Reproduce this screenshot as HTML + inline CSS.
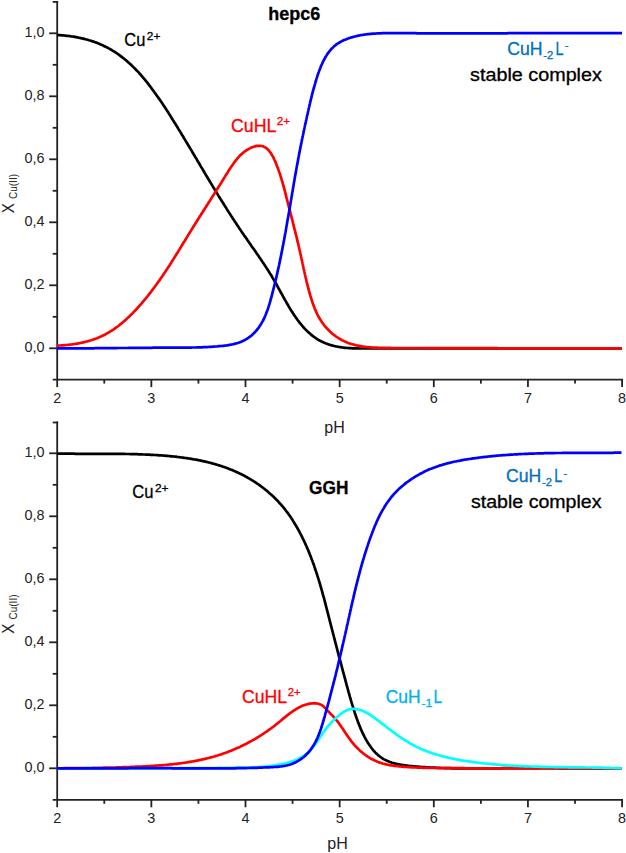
<!DOCTYPE html><html><head><meta charset="utf-8"><style>html,body{margin:0;padding:0;background:#fff;}body{width:626px;height:853px;overflow:hidden;}svg{display:block;font-family:"Liberation Sans",sans-serif;}</style></head><body><svg width="626" height="853" viewBox="0 0 626 853">
<rect width="626" height="853" fill="#fff"/>
<g stroke="#222" stroke-width="1.80" fill="none"><line x1="57.20" y1="1.00" x2="57.20" y2="379.60" /><line x1="52.70" y1="1.90" x2="58.10" y2="1.90" /><line x1="52.70" y1="379.60" x2="623.00" y2="379.60" /><line x1="49.20" y1="348.30" x2="57.20" y2="348.30" /><line x1="52.70" y1="316.80" x2="57.20" y2="316.80" /><line x1="49.20" y1="285.30" x2="57.20" y2="285.30" /><line x1="52.70" y1="253.80" x2="57.20" y2="253.80" /><line x1="49.20" y1="222.30" x2="57.20" y2="222.30" /><line x1="52.70" y1="190.80" x2="57.20" y2="190.80" /><line x1="49.20" y1="159.30" x2="57.20" y2="159.30" /><line x1="52.70" y1="127.80" x2="57.20" y2="127.80" /><line x1="49.20" y1="96.30" x2="57.20" y2="96.30" /><line x1="52.70" y1="64.80" x2="57.20" y2="64.80" /><line x1="49.20" y1="33.30" x2="57.20" y2="33.30" /><line x1="57.20" y1="379.60" x2="57.20" y2="387.10" /><line x1="104.28" y1="379.60" x2="104.28" y2="383.60" /><line x1="151.35" y1="379.60" x2="151.35" y2="387.10" /><line x1="198.43" y1="379.60" x2="198.43" y2="383.60" /><line x1="245.50" y1="379.60" x2="245.50" y2="387.10" /><line x1="292.57" y1="379.60" x2="292.57" y2="383.60" /><line x1="339.65" y1="379.60" x2="339.65" y2="387.10" /><line x1="386.73" y1="379.60" x2="386.73" y2="383.60" /><line x1="433.80" y1="379.60" x2="433.80" y2="387.10" /><line x1="480.88" y1="379.60" x2="480.88" y2="383.60" /><line x1="527.95" y1="379.60" x2="527.95" y2="387.10" /><line x1="575.03" y1="379.60" x2="575.03" y2="383.60" /><line x1="622.10" y1="379.60" x2="622.10" y2="387.10" /></g><g font-size="14.4" fill="#222"><text x="44.6" y="351.90" text-anchor="end">0,0</text><text x="44.6" y="288.90" text-anchor="end">0,2</text><text x="44.6" y="225.90" text-anchor="end">0,4</text><text x="44.6" y="162.90" text-anchor="end">0,6</text><text x="44.6" y="99.90" text-anchor="end">0,8</text><text x="44.6" y="36.90" text-anchor="end">1,0</text><text x="57.20" y="402.80" text-anchor="middle">2</text><text x="151.35" y="402.80" text-anchor="middle">3</text><text x="245.50" y="402.80" text-anchor="middle">4</text><text x="339.65" y="402.80" text-anchor="middle">5</text><text x="433.80" y="402.80" text-anchor="middle">6</text><text x="527.95" y="402.80" text-anchor="middle">7</text><text x="622.10" y="402.80" text-anchor="middle">8</text></g>
<g stroke="#222" stroke-width="1.80" fill="none"><line x1="57.20" y1="421.60" x2="57.20" y2="799.80" /><line x1="52.70" y1="422.50" x2="58.10" y2="422.50" /><line x1="52.70" y1="799.80" x2="623.00" y2="799.80" /><line x1="49.20" y1="768.30" x2="57.20" y2="768.30" /><line x1="52.70" y1="736.80" x2="57.20" y2="736.80" /><line x1="49.20" y1="705.30" x2="57.20" y2="705.30" /><line x1="52.70" y1="673.80" x2="57.20" y2="673.80" /><line x1="49.20" y1="642.30" x2="57.20" y2="642.30" /><line x1="52.70" y1="610.80" x2="57.20" y2="610.80" /><line x1="49.20" y1="579.30" x2="57.20" y2="579.30" /><line x1="52.70" y1="547.80" x2="57.20" y2="547.80" /><line x1="49.20" y1="516.30" x2="57.20" y2="516.30" /><line x1="52.70" y1="484.80" x2="57.20" y2="484.80" /><line x1="49.20" y1="453.30" x2="57.20" y2="453.30" /><line x1="57.20" y1="799.80" x2="57.20" y2="807.30" /><line x1="104.28" y1="799.80" x2="104.28" y2="803.80" /><line x1="151.35" y1="799.80" x2="151.35" y2="807.30" /><line x1="198.43" y1="799.80" x2="198.43" y2="803.80" /><line x1="245.50" y1="799.80" x2="245.50" y2="807.30" /><line x1="292.57" y1="799.80" x2="292.57" y2="803.80" /><line x1="339.65" y1="799.80" x2="339.65" y2="807.30" /><line x1="386.73" y1="799.80" x2="386.73" y2="803.80" /><line x1="433.80" y1="799.80" x2="433.80" y2="807.30" /><line x1="480.88" y1="799.80" x2="480.88" y2="803.80" /><line x1="527.95" y1="799.80" x2="527.95" y2="807.30" /><line x1="575.03" y1="799.80" x2="575.03" y2="803.80" /><line x1="622.10" y1="799.80" x2="622.10" y2="807.30" /></g><g font-size="14.4" fill="#222"><text x="44.6" y="771.90" text-anchor="end">0,0</text><text x="44.6" y="708.90" text-anchor="end">0,2</text><text x="44.6" y="645.90" text-anchor="end">0,4</text><text x="44.6" y="582.90" text-anchor="end">0,6</text><text x="44.6" y="519.90" text-anchor="end">0,8</text><text x="44.6" y="456.90" text-anchor="end">1,0</text><text x="57.20" y="823.00" text-anchor="middle">2</text><text x="151.35" y="823.00" text-anchor="middle">3</text><text x="245.50" y="823.00" text-anchor="middle">4</text><text x="339.65" y="823.00" text-anchor="middle">5</text><text x="433.80" y="823.00" text-anchor="middle">6</text><text x="527.95" y="823.00" text-anchor="middle">7</text><text x="622.10" y="823.00" text-anchor="middle">8</text></g>
<g transform="translate(13.7,212.20) rotate(-90)" fill="#222"><text x="-1.2" y="0" font-size="16.5" transform="scale(0.92,1)">X</text><text x="13.2" y="3.3" font-size="11" textLength="25" lengthAdjust="spacingAndGlyphs">Cu(II)</text></g>
<g transform="translate(13.7,632.70) rotate(-90)" fill="#222"><text x="-1.2" y="0" font-size="16.5" transform="scale(0.92,1)">X</text><text x="13.2" y="3.3" font-size="11" textLength="25" lengthAdjust="spacingAndGlyphs">Cu(II)</text></g>
<g fill="none" stroke-width="2.70" stroke-linejoin="round" stroke-linecap="butt"><path d="M57.0 35.0 L58.2 35.1 L59.4 35.1 L60.6 35.2 L61.7 35.3 L62.9 35.4 L64.1 35.5 L65.3 35.6 L66.5 35.8 L67.7 35.9 L68.9 36.0 L70.1 36.2 L71.3 36.4 L72.5 36.5 L73.6 36.7 L74.8 36.9 L76.0 37.1 L77.2 37.3 L78.4 37.6 L79.6 37.8 L80.7 38.1 L81.9 38.3 L83.1 38.6 L84.3 38.9 L85.4 39.2 L86.6 39.5 L87.7 39.8 L88.9 40.2 L90.0 40.5 L91.2 40.9 L92.3 41.2 L93.5 41.6 L94.6 42.0 L95.7 42.4 L96.9 42.8 L98.0 43.3 L99.1 43.7 L100.2 44.2 L101.3 44.7 L102.4 45.1 L103.4 45.7 L104.5 46.2 L105.6 46.7 L106.7 47.2 L107.7 47.8 L108.8 48.4 L109.8 48.9 L110.8 49.5 L111.9 50.1 L112.9 50.8 L113.9 51.4 L114.9 52.0 L115.9 52.7 L116.9 53.4 L117.9 54.0 L118.8 54.7 L119.8 55.4 L120.7 56.1 L121.7 56.9 L122.6 57.6 L123.6 58.3 L124.5 59.1 L125.4 59.8 L126.3 60.6 L127.3 61.4 L128.2 62.2 L129.0 63.0 L129.9 63.8 L130.8 64.6 L131.7 65.4 L132.5 66.2 L133.4 67.1 L134.2 67.9 L135.1 68.8 L135.9 69.6 L136.7 70.5 L137.6 71.3 L138.4 72.2 L139.2 73.1 L140.0 74.0 L140.8 74.9 L141.6 75.8 L142.3 76.7 L143.1 77.6 L143.9 78.5 L144.7 79.4 L145.4 80.4 L146.2 81.3 L146.9 82.2 L147.7 83.2 L148.4 84.1 L149.1 85.1 L149.9 86.0 L150.6 87.0 L151.3 87.9 L152.0 88.9 L152.7 89.9 L153.4 90.8 L154.1 91.8 L154.8 92.8 L155.5 93.7 L156.2 94.7 L156.9 95.7 L157.6 96.7 L158.3 97.7 L159.0 98.6 L159.7 99.6 L160.3 100.6 L161.0 101.6 L161.7 102.6 L162.4 103.6 L163.0 104.6 L163.7 105.6 L164.3 106.6 L165.0 107.6 L165.7 108.6 L166.3 109.6 L167.0 110.6 L167.6 111.6 L168.3 112.6 L168.9 113.6 L169.5 114.6 L170.2 115.6 L170.8 116.7 L171.5 117.7 L172.1 118.7 L172.7 119.7 L173.4 120.7 L174.0 121.7 L174.6 122.7 L175.3 123.8 L175.9 124.8 L176.5 125.8 L177.2 126.8 L177.8 127.8 L178.4 128.9 L179.0 129.9 L179.7 130.9 L180.3 131.9 L180.9 132.9 L181.5 134.0 L182.1 135.0 L182.8 136.0 L183.4 137.0 L184.0 138.1 L184.6 139.1 L185.2 140.1 L185.8 141.1 L186.5 142.2 L187.1 143.2 L187.7 144.2 L188.3 145.3 L188.9 146.3 L189.5 147.3 L190.1 148.3 L190.8 149.4 L191.4 150.4 L192.0 151.4 L192.6 152.5 L193.2 153.5 L193.8 154.5 L194.4 155.5 L195.0 156.6 L195.6 157.6 L196.3 158.6 L196.9 159.7 L197.5 160.7 L198.1 161.7 L198.7 162.8 L199.3 163.8 L199.9 164.8 L200.5 165.9 L201.1 166.9 L201.8 167.9 L202.4 168.9 L203.0 170.0 L203.6 171.0 L204.2 172.0 L204.8 173.1 L205.4 174.1 L206.0 175.1 L206.7 176.2 L207.3 177.2 L207.9 178.2 L208.5 179.2 L209.1 180.3 L209.7 181.3 L210.3 182.3 L211.0 183.4 L211.6 184.4 L212.2 185.4 L212.8 186.4 L213.4 187.5 L214.1 188.5 L214.7 189.5 L215.3 190.5 L215.9 191.6 L216.6 192.6 L217.2 193.6 L217.8 194.6 L218.4 195.6 L219.1 196.7 L219.7 197.7 L220.3 198.7 L221.0 199.7 L221.6 200.7 L222.2 201.8 L222.9 202.8 L223.5 203.8 L224.1 204.8 L224.8 205.8 L225.4 206.8 L226.1 207.8 L226.7 208.9 L227.3 209.9 L228.0 210.9 L228.6 211.9 L229.3 212.9 L229.9 213.9 L230.6 214.9 L231.2 215.9 L231.9 216.9 L232.5 217.9 L233.2 218.9 L233.8 219.9 L234.5 220.9 L235.2 221.9 L235.8 222.9 L236.5 223.9 L237.1 224.9 L237.8 225.9 L238.5 226.9 L239.1 227.9 L239.8 228.9 L240.5 229.9 L241.1 230.9 L241.8 231.9 L242.5 232.9 L243.2 233.9 L243.8 234.9 L244.5 235.9 L245.2 236.8 L245.9 237.8 L246.6 238.8 L247.2 239.8 L247.9 240.8 L248.6 241.8 L249.3 242.8 L250.0 243.7 L250.7 244.7 L251.3 245.7 L252.0 246.7 L252.7 247.7 L253.4 248.6 L254.1 249.6 L254.8 250.6 L255.5 251.6 L256.1 252.6 L256.8 253.6 L257.5 254.5 L258.2 255.5 L258.9 256.5 L259.5 257.5 L260.2 258.5 L260.9 259.5 L261.6 260.5 L262.2 261.4 L262.9 262.4 L263.6 263.4 L264.2 264.4 L264.9 265.4 L265.5 266.4 L266.2 267.4 L266.8 268.4 L267.5 269.4 L268.1 270.4 L268.8 271.5 L269.4 272.5 L270.0 273.5 L270.7 274.5 L271.3 275.5 L271.9 276.5 L272.5 277.6 L273.1 278.6 L273.7 279.6 L274.3 280.7 L274.9 281.7 L275.5 282.7 L276.1 283.8 L276.7 284.8 L277.3 285.9 L277.8 286.9 L278.4 288.0 L279.0 289.0 L279.6 290.1 L280.2 291.1 L280.7 292.2 L281.3 293.2 L281.9 294.3 L282.5 295.3 L283.0 296.4 L283.6 297.4 L284.2 298.5 L284.8 299.6 L285.4 300.6 L286.0 301.6 L286.6 302.7 L287.2 303.7 L287.8 304.8 L288.4 305.8 L289.0 306.9 L289.6 307.9 L290.2 308.9 L290.9 309.9 L291.5 311.0 L292.2 312.0 L292.8 313.0 L293.5 314.0 L294.1 315.0 L294.8 316.0 L295.5 317.0 L296.2 318.0 L296.9 319.0 L297.6 320.0 L298.4 321.0 L299.1 321.9 L299.8 322.9 L300.6 323.8 L301.4 324.7 L302.1 325.7 L302.9 326.6 L303.7 327.5 L304.5 328.4 L305.3 329.2 L306.2 330.1 L307.0 330.9 L307.9 331.7 L308.7 332.6 L309.6 333.3 L310.5 334.1 L311.4 334.9 L312.3 335.6 L313.2 336.3 L314.2 337.0 L315.1 337.7 L316.1 338.4 L317.1 339.0 L318.0 339.6 L319.1 340.2 L320.1 340.8 L321.1 341.3 L322.1 341.8 L323.2 342.3 L324.3 342.8 L325.3 343.2 L326.4 343.6 L327.5 344.0 L328.6 344.4 L329.8 344.8 L330.9 345.1 L332.0 345.4 L333.2 345.7 L334.3 346.0 L335.5 346.3 L336.7 346.5 L337.8 346.7 L339.0 347.0 L340.2 347.1 L341.4 347.3 L342.6 347.5 L343.8 347.6 L345.0 347.8 L346.2 347.9 L347.4 348.0 L348.6 348.1 L349.8 348.1 L351.0 348.2 L352.2 348.3 L353.4 348.3 L354.6 348.4 L355.8 348.4 L357.1 348.4 L358.3 348.4 L359.5 348.5 L360.7 348.5 L361.9 348.5 L363.1 348.5 L364.4 348.5 L365.6 348.5 L366.8 348.5 L368.0 348.5 L369.2 348.5 L370.4 348.5 L371.6 348.5 L372.8 348.5 L374.0 348.5 L375.3 348.5 L376.5 348.5 L377.7 348.5 L378.9 348.5 L380.1 348.5 L381.3 348.5 L382.5 348.5 L383.7 348.5 L384.9 348.5 L386.1 348.5 L387.3 348.5 L388.5 348.5 L389.7 348.5 L390.9 348.5 L392.1 348.5 L393.3 348.5 L394.5 348.5 L395.7 348.5 L396.9 348.5 L398.1 348.5 L399.3 348.5 L400.4 348.5 L401.6 348.5 L402.8 348.5 L404.0 348.5 L405.2 348.5 L406.4 348.5 L407.6 348.5 L408.8 348.5 L410.0 348.5 L411.2 348.5 L412.4 348.5 L413.6 348.5 L414.8 348.5 L416.0 348.5 L417.2 348.5 L418.4 348.5 L419.6 348.5 L420.8 348.5 L421.9 348.5 L423.1 348.5 L424.3 348.5 L425.5 348.5 L426.7 348.5 L427.9 348.5 L429.1 348.5 L430.3 348.5 L431.5 348.5 L432.7 348.5 L433.9 348.5 L435.1 348.5 L436.3 348.5 L437.5 348.5 L438.7 348.5 L439.9 348.5 L441.1 348.5 L442.3 348.5 L443.5 348.5 L444.7 348.5 L445.9 348.5 L447.1 348.5 L448.2 348.5 L449.4 348.5 L450.6 348.5 L451.8 348.5 L453.0 348.5 L454.2 348.5 L455.4 348.5 L456.6 348.5 L457.8 348.5 L459.0 348.5 L460.2 348.5 L461.4 348.5 L462.6 348.5 L463.8 348.5 L465.0 348.5 L466.2 348.5 L467.4 348.5 L468.6 348.5 L469.8 348.5 L471.0 348.5 L472.2 348.5 L473.4 348.5 L474.6 348.5 L475.8 348.5 L477.0 348.5 L478.2 348.5 L479.4 348.5 L480.6 348.5 L481.8 348.5 L483.0 348.5 L484.2 348.5 L485.4 348.5 L486.6 348.5 L487.8 348.5 L489.0 348.5 L490.2 348.5 L491.4 348.5 L492.6 348.5 L493.8 348.5 L495.0 348.5 L496.2 348.5 L497.4 348.5 L498.6 348.5 L499.8 348.5 L501.0 348.5 L502.2 348.5 L503.4 348.5 L504.6 348.5 L505.8 348.5 L507.0 348.5 L508.2 348.5 L509.4 348.5 L510.6 348.5 L511.7 348.5 L512.9 348.5 L514.1 348.5 L515.3 348.5 L516.5 348.5 L517.7 348.5 L518.9 348.5 L520.1 348.5 L521.3 348.5 L522.5 348.5 L523.7 348.5 L524.9 348.5 L526.1 348.5 L527.3 348.5 L528.5 348.5 L529.7 348.5 L530.9 348.5 L532.1 348.5 L533.3 348.5 L534.5 348.5 L535.7 348.5 L536.9 348.5 L538.1 348.5 L539.3 348.5 L540.5 348.5 L541.7 348.5 L542.9 348.5 L544.1 348.5 L545.3 348.5 L546.5 348.5 L547.7 348.5 L548.9 348.5 L550.1 348.5 L551.3 348.5 L552.5 348.5 L553.7 348.5 L554.9 348.5 L556.1 348.5 L557.3 348.5 L558.5 348.5 L559.7 348.5 L560.9 348.5 L562.1 348.5 L563.3 348.5 L564.5 348.5 L565.7 348.5 L566.9 348.5 L568.1 348.5 L569.3 348.5 L570.5 348.5 L571.7 348.5 L572.9 348.5 L574.1 348.5 L575.3 348.5 L576.5 348.5 L577.7 348.5 L578.9 348.5 L580.1 348.5 L581.3 348.5 L582.5 348.5 L583.7 348.5 L584.9 348.5 L586.1 348.5 L587.3 348.5 L588.5 348.5 L589.7 348.5 L590.9 348.5 L592.1 348.5 L593.3 348.5 L594.5 348.5 L595.7 348.5 L596.9 348.5 L598.1 348.5 L599.3 348.5 L600.5 348.5 L601.7 348.5 L602.9 348.5 L604.1 348.5 L605.2 348.5 L606.4 348.5 L607.6 348.5 L608.8 348.5 L610.0 348.5 L611.2 348.5 L612.4 348.5 L613.6 348.5 L614.8 348.5 L616.0 348.5 L617.2 348.5 L618.4 348.5 L619.6 348.5 L620.8 348.5 L622.0 348.5" stroke="#000" />
<path d="M57.0 345.6 L58.2 345.6 L59.3 345.5 L60.5 345.5 L61.7 345.4 L62.9 345.3 L64.1 345.2 L65.3 345.1 L66.5 345.0 L67.6 344.9 L68.8 344.8 L70.0 344.6 L71.2 344.5 L72.4 344.3 L73.6 344.2 L74.8 344.0 L76.0 343.8 L77.2 343.6 L78.4 343.4 L79.6 343.2 L80.8 342.9 L82.0 342.7 L83.2 342.4 L84.3 342.1 L85.5 341.8 L86.7 341.5 L87.9 341.2 L89.0 340.9 L90.2 340.5 L91.3 340.2 L92.5 339.8 L93.6 339.4 L94.7 339.0 L95.9 338.6 L97.0 338.2 L98.1 337.7 L99.2 337.3 L100.3 336.8 L101.4 336.3 L102.4 335.8 L103.5 335.3 L104.6 334.7 L105.6 334.2 L106.6 333.6 L107.7 333.0 L108.7 332.4 L109.7 331.8 L110.7 331.2 L111.7 330.6 L112.7 329.9 L113.7 329.3 L114.7 328.6 L115.6 327.9 L116.6 327.2 L117.5 326.5 L118.5 325.8 L119.4 325.1 L120.3 324.3 L121.3 323.6 L122.2 322.8 L123.1 322.1 L124.0 321.3 L124.9 320.5 L125.8 319.7 L126.7 318.9 L127.5 318.1 L128.4 317.3 L129.3 316.5 L130.1 315.6 L131.0 314.8 L131.8 314.0 L132.7 313.1 L133.5 312.2 L134.3 311.4 L135.2 310.5 L136.0 309.6 L136.8 308.8 L137.6 307.9 L138.4 307.0 L139.2 306.1 L140.0 305.2 L140.8 304.3 L141.6 303.4 L142.3 302.5 L143.1 301.6 L143.9 300.7 L144.7 299.7 L145.4 298.8 L146.2 297.9 L146.9 297.0 L147.7 296.0 L148.4 295.1 L149.2 294.1 L149.9 293.2 L150.6 292.3 L151.4 291.3 L152.1 290.3 L152.8 289.4 L153.5 288.4 L154.2 287.5 L155.0 286.5 L155.7 285.5 L156.4 284.6 L157.1 283.6 L157.8 282.6 L158.5 281.6 L159.2 280.7 L159.8 279.7 L160.5 278.7 L161.2 277.7 L161.9 276.7 L162.6 275.7 L163.3 274.7 L163.9 273.7 L164.6 272.7 L165.3 271.7 L165.9 270.7 L166.6 269.7 L167.2 268.7 L167.9 267.7 L168.6 266.7 L169.2 265.7 L169.9 264.7 L170.5 263.7 L171.2 262.7 L171.8 261.6 L172.5 260.6 L173.1 259.6 L173.7 258.6 L174.4 257.6 L175.0 256.6 L175.7 255.5 L176.3 254.5 L176.9 253.5 L177.6 252.5 L178.2 251.5 L178.8 250.4 L179.5 249.4 L180.1 248.4 L180.7 247.4 L181.3 246.4 L182.0 245.3 L182.6 244.3 L183.2 243.3 L183.8 242.3 L184.5 241.2 L185.1 240.2 L185.7 239.2 L186.3 238.2 L187.0 237.2 L187.6 236.1 L188.2 235.1 L188.8 234.1 L189.5 233.1 L190.1 232.1 L190.7 231.1 L191.3 230.1 L192.0 229.0 L192.6 228.0 L193.2 227.0 L193.8 226.0 L194.5 225.0 L195.1 224.0 L195.7 223.0 L196.4 222.0 L197.0 221.0 L197.6 220.0 L198.2 219.0 L198.9 218.0 L199.5 217.0 L200.1 216.0 L200.8 215.0 L201.4 214.0 L202.0 213.0 L202.7 212.0 L203.3 211.0 L203.9 210.0 L204.6 209.0 L205.2 208.0 L205.9 207.0 L206.5 206.0 L207.1 205.0 L207.8 204.0 L208.4 203.0 L209.0 202.0 L209.7 201.0 L210.3 200.0 L211.0 199.0 L211.6 197.9 L212.2 196.9 L212.9 195.9 L213.5 194.9 L214.2 193.9 L214.8 192.9 L215.5 191.9 L216.1 190.9 L216.7 189.8 L217.4 188.8 L218.0 187.8 L218.7 186.8 L219.3 185.7 L220.0 184.7 L220.6 183.7 L221.3 182.6 L221.9 181.6 L222.6 180.6 L223.2 179.5 L223.8 178.5 L224.5 177.4 L225.1 176.4 L225.8 175.3 L226.4 174.3 L227.1 173.2 L227.8 172.2 L228.4 171.1 L229.1 170.1 L229.7 169.0 L230.4 168.0 L231.1 166.9 L231.8 165.9 L232.5 164.9 L233.2 163.9 L233.9 162.9 L234.6 161.9 L235.4 161.0 L236.1 160.0 L236.9 159.1 L237.6 158.2 L238.4 157.3 L239.2 156.4 L240.0 155.6 L240.9 154.8 L241.7 154.0 L242.6 153.2 L243.5 152.4 L244.4 151.7 L245.3 151.0 L246.3 150.4 L247.3 149.7 L248.3 149.2 L249.3 148.6 L250.3 148.1 L251.4 147.6 L252.5 147.2 L253.6 146.8 L254.7 146.4 L255.9 146.1 L257.0 145.9 L258.1 145.8 L259.3 145.8 L260.4 145.8 L261.5 146.0 L262.5 146.2 L263.6 146.6 L264.6 147.1 L265.6 147.7 L266.5 148.3 L267.4 149.1 L268.3 149.9 L269.1 150.8 L269.8 151.8 L270.6 152.8 L271.3 153.9 L271.9 155.0 L272.6 156.1 L273.2 157.2 L273.8 158.4 L274.3 159.6 L274.9 160.7 L275.4 161.9 L275.9 163.0 L276.3 164.2 L276.8 165.4 L277.2 166.5 L277.7 167.7 L278.1 168.8 L278.5 170.0 L278.9 171.1 L279.3 172.3 L279.7 173.4 L280.1 174.5 L280.4 175.7 L280.8 176.8 L281.2 178.0 L281.5 179.1 L281.8 180.2 L282.2 181.4 L282.5 182.5 L282.8 183.7 L283.2 184.8 L283.5 185.9 L283.8 187.1 L284.1 188.2 L284.4 189.4 L284.7 190.5 L285.0 191.6 L285.3 192.8 L285.6 193.9 L285.9 195.1 L286.1 196.2 L286.4 197.4 L286.7 198.5 L287.0 199.7 L287.3 200.8 L287.6 202.0 L287.9 203.1 L288.2 204.3 L288.5 205.4 L288.8 206.6 L289.1 207.7 L289.4 208.9 L289.7 210.0 L290.0 211.2 L290.3 212.4 L290.6 213.5 L290.9 214.7 L291.2 215.8 L291.5 217.0 L291.8 218.2 L292.1 219.3 L292.4 220.5 L292.7 221.7 L293.0 222.8 L293.3 224.0 L293.5 225.2 L293.8 226.3 L294.1 227.5 L294.4 228.7 L294.7 229.8 L295.0 231.0 L295.3 232.2 L295.6 233.4 L295.9 234.5 L296.2 235.7 L296.5 236.9 L296.8 238.0 L297.0 239.2 L297.3 240.4 L297.6 241.6 L297.9 242.7 L298.2 243.9 L298.5 245.1 L298.7 246.3 L299.0 247.4 L299.3 248.6 L299.5 249.8 L299.8 250.9 L300.1 252.1 L300.3 253.3 L300.6 254.5 L300.9 255.6 L301.1 256.8 L301.4 258.0 L301.6 259.1 L301.9 260.3 L302.1 261.5 L302.4 262.6 L302.6 263.8 L302.9 265.0 L303.1 266.1 L303.4 267.3 L303.6 268.5 L303.9 269.6 L304.2 270.8 L304.4 272.0 L304.7 273.1 L304.9 274.3 L305.2 275.5 L305.5 276.6 L305.7 277.8 L306.0 278.9 L306.3 280.1 L306.5 281.3 L306.8 282.4 L307.1 283.6 L307.4 284.7 L307.7 285.9 L308.0 287.0 L308.3 288.2 L308.6 289.3 L308.9 290.5 L309.2 291.6 L309.5 292.8 L309.9 293.9 L310.2 295.1 L310.5 296.2 L310.9 297.4 L311.2 298.5 L311.6 299.7 L312.0 300.8 L312.3 302.0 L312.7 303.1 L313.1 304.3 L313.5 305.4 L314.0 306.5 L314.4 307.6 L314.8 308.8 L315.3 309.9 L315.8 311.0 L316.3 312.1 L316.8 313.2 L317.3 314.3 L317.9 315.4 L318.4 316.4 L319.0 317.5 L319.6 318.5 L320.2 319.6 L320.9 320.6 L321.6 321.6 L322.2 322.6 L323.0 323.6 L323.7 324.6 L324.4 325.5 L325.2 326.5 L326.0 327.4 L326.8 328.3 L327.7 329.2 L328.5 330.1 L329.4 330.9 L330.2 331.8 L331.1 332.6 L332.0 333.4 L333.0 334.2 L333.9 334.9 L334.9 335.6 L335.8 336.3 L336.8 337.0 L337.8 337.7 L338.8 338.3 L339.8 338.9 L340.8 339.5 L341.8 340.1 L342.8 340.6 L343.9 341.1 L344.9 341.6 L346.0 342.0 L347.1 342.5 L348.1 342.9 L349.2 343.3 L350.3 343.6 L351.4 344.0 L352.5 344.3 L353.6 344.6 L354.7 344.9 L355.9 345.2 L357.0 345.5 L358.1 345.7 L359.3 345.9 L360.4 346.1 L361.6 346.3 L362.7 346.5 L363.9 346.7 L365.1 346.8 L366.2 347.0 L367.4 347.1 L368.6 347.2 L369.8 347.3 L371.0 347.4 L372.2 347.5 L373.4 347.6 L374.6 347.6 L375.8 347.7 L377.0 347.7 L378.2 347.8 L379.4 347.8 L380.6 347.8 L381.8 347.9 L383.0 347.9 L384.2 347.9 L385.4 347.9 L386.7 347.9 L387.9 347.9 L389.1 347.9 L390.3 347.9 L391.5 348.0 L392.7 348.0 L393.9 348.0 L395.2 348.0 L396.4 348.0 L397.6 348.0 L398.8 348.0 L400.0 348.0 L401.2 348.0 L402.4 348.0 L403.7 348.0 L404.9 348.0 L406.1 348.0 L407.3 348.0 L408.5 348.0 L409.7 348.0 L410.9 348.0 L412.1 348.0 L413.3 348.0 L414.6 348.0 L415.8 348.0 L417.0 348.0 L418.2 348.0 L419.4 348.0 L420.6 348.0 L421.8 348.0 L423.0 348.0 L424.2 348.0 L425.4 348.0 L426.6 348.0 L427.8 348.1 L429.0 348.1 L430.2 348.1 L431.4 348.1 L432.7 348.1 L433.9 348.1 L435.1 348.1 L436.3 348.1 L437.5 348.1 L438.7 348.1 L439.9 348.1 L441.1 348.1 L442.3 348.1 L443.5 348.1 L444.7 348.1 L445.9 348.1 L447.1 348.1 L448.3 348.1 L449.5 348.1 L450.7 348.1 L451.9 348.1 L453.1 348.1 L454.3 348.1 L455.5 348.1 L456.7 348.1 L457.9 348.1 L459.1 348.1 L460.3 348.1 L461.5 348.2 L462.7 348.2 L463.9 348.2 L465.1 348.2 L466.3 348.2 L467.5 348.2 L468.7 348.2 L469.9 348.2 L471.1 348.2 L472.3 348.2 L473.5 348.2 L474.7 348.2 L475.9 348.2 L477.1 348.2 L478.3 348.2 L479.5 348.2 L480.7 348.2 L481.9 348.2 L483.0 348.2 L484.2 348.2 L485.4 348.2 L486.6 348.2 L487.8 348.2 L489.0 348.2 L490.2 348.2 L491.4 348.2 L492.6 348.2 L493.8 348.2 L495.0 348.2 L496.2 348.2 L497.4 348.2 L498.6 348.3 L499.8 348.3 L501.0 348.3 L502.2 348.3 L503.4 348.3 L504.6 348.3 L505.8 348.3 L507.0 348.3 L508.2 348.3 L509.3 348.3 L510.5 348.3 L511.7 348.3 L512.9 348.3 L514.1 348.3 L515.3 348.3 L516.5 348.3 L517.7 348.3 L518.9 348.3 L520.1 348.3 L521.3 348.3 L522.5 348.3 L523.7 348.3 L524.9 348.3 L526.1 348.3 L527.3 348.3 L528.5 348.3 L529.7 348.3 L530.9 348.3 L532.0 348.3 L533.2 348.3 L534.4 348.3 L535.6 348.3 L536.8 348.3 L538.0 348.3 L539.2 348.3 L540.4 348.3 L541.6 348.3 L542.8 348.3 L544.0 348.3 L545.2 348.3 L546.4 348.3 L547.6 348.3 L548.8 348.3 L550.0 348.3 L551.2 348.3 L552.4 348.3 L553.6 348.3 L554.8 348.3 L556.0 348.3 L557.2 348.3 L558.3 348.3 L559.5 348.3 L560.7 348.3 L561.9 348.4 L563.1 348.4 L564.3 348.4 L565.5 348.4 L566.7 348.4 L567.9 348.4 L569.1 348.4 L570.3 348.4 L571.5 348.4 L572.7 348.4 L573.9 348.4 L575.1 348.4 L576.3 348.4 L577.5 348.4 L578.7 348.4 L579.9 348.4 L581.1 348.4 L582.3 348.4 L583.5 348.4 L584.7 348.4 L585.9 348.3 L587.1 348.3 L588.3 348.3 L589.5 348.3 L590.7 348.3 L591.9 348.3 L593.1 348.3 L594.3 348.3 L595.5 348.3 L596.7 348.3 L597.9 348.3 L599.1 348.3 L600.3 348.3 L601.5 348.3 L602.7 348.3 L603.9 348.3 L605.1 348.3 L606.3 348.3 L607.5 348.3 L608.7 348.3 L609.9 348.3 L611.2 348.3 L612.4 348.3 L613.6 348.3 L614.8 348.3 L616.0 348.3 L617.2 348.3 L618.4 348.3 L619.6 348.3 L620.8 348.3 L622.0 348.3" stroke="#f00" />
<path d="M57.0 348.3 L58.2 348.3 L59.4 348.3 L60.6 348.3 L61.8 348.3 L63.0 348.3 L64.2 348.3 L65.4 348.3 L66.6 348.3 L67.8 348.3 L69.0 348.3 L70.2 348.3 L71.4 348.3 L72.6 348.3 L73.8 348.3 L75.0 348.3 L76.2 348.3 L77.4 348.3 L78.6 348.3 L79.8 348.3 L80.9 348.3 L82.1 348.3 L83.3 348.3 L84.5 348.3 L85.7 348.3 L86.9 348.3 L88.1 348.3 L89.3 348.3 L90.5 348.3 L91.7 348.3 L92.9 348.3 L94.1 348.3 L95.3 348.2 L96.5 348.2 L97.7 348.2 L98.9 348.2 L100.1 348.2 L101.3 348.2 L102.5 348.2 L103.7 348.2 L104.9 348.2 L106.1 348.2 L107.3 348.1 L108.5 348.1 L109.7 348.1 L110.9 348.1 L112.1 348.1 L113.3 348.1 L114.5 348.1 L115.7 348.1 L116.9 348.1 L118.1 348.0 L119.3 348.0 L120.5 348.0 L121.7 348.0 L122.9 348.0 L124.1 348.0 L125.3 348.0 L126.5 348.0 L127.7 348.0 L128.9 347.9 L130.1 347.9 L131.3 347.9 L132.5 347.9 L133.7 347.9 L134.9 347.9 L136.1 347.9 L137.3 347.9 L138.5 347.9 L139.7 347.8 L140.9 347.8 L142.1 347.8 L143.3 347.8 L144.5 347.8 L145.7 347.8 L146.9 347.8 L148.1 347.8 L149.3 347.8 L150.5 347.8 L151.7 347.8 L152.9 347.7 L154.1 347.7 L155.3 347.7 L156.5 347.7 L157.7 347.7 L158.9 347.7 L160.1 347.7 L161.3 347.7 L162.5 347.7 L163.7 347.7 L164.9 347.7 L166.1 347.7 L167.3 347.7 L168.5 347.7 L169.7 347.7 L170.9 347.7 L172.1 347.7 L173.3 347.7 L174.4 347.7 L175.6 347.7 L176.8 347.7 L178.0 347.7 L179.2 347.7 L180.4 347.7 L181.6 347.6 L182.8 347.6 L184.0 347.6 L185.2 347.6 L186.4 347.6 L187.6 347.6 L188.8 347.6 L190.0 347.6 L191.2 347.6 L192.4 347.5 L193.6 347.5 L194.8 347.5 L196.0 347.5 L197.2 347.4 L198.4 347.4 L199.6 347.4 L200.8 347.3 L202.0 347.3 L203.2 347.2 L204.4 347.2 L205.6 347.1 L206.8 347.1 L208.0 347.0 L209.2 346.9 L210.4 346.9 L211.6 346.8 L212.8 346.7 L214.0 346.6 L215.2 346.5 L216.4 346.5 L217.6 346.4 L218.8 346.2 L220.0 346.1 L221.3 346.0 L222.5 345.9 L223.7 345.8 L224.9 345.6 L226.1 345.5 L227.3 345.3 L228.5 345.1 L229.7 344.9 L230.9 344.7 L232.1 344.5 L233.2 344.2 L234.4 343.9 L235.6 343.6 L236.7 343.3 L237.8 343.0 L239.0 342.6 L240.1 342.2 L241.2 341.8 L242.2 341.3 L243.3 340.8 L244.4 340.3 L245.4 339.7 L246.4 339.1 L247.4 338.5 L248.4 337.8 L249.3 337.1 L250.3 336.4 L251.2 335.7 L252.1 334.9 L253.0 334.1 L253.8 333.3 L254.6 332.5 L255.4 331.6 L256.2 330.8 L256.9 329.9 L257.7 329.0 L258.4 328.0 L259.1 327.1 L259.7 326.1 L260.4 325.1 L261.0 324.1 L261.6 323.1 L262.1 322.1 L262.7 321.1 L263.3 320.0 L263.8 318.9 L264.3 317.9 L264.8 316.8 L265.3 315.7 L265.7 314.6 L266.2 313.4 L266.6 312.3 L267.0 311.2 L267.5 310.0 L267.9 308.9 L268.2 307.7 L268.6 306.6 L269.0 305.4 L269.4 304.2 L269.7 303.0 L270.1 301.9 L270.4 300.7 L270.7 299.5 L271.1 298.3 L271.4 297.1 L271.7 295.9 L272.0 294.8 L272.3 293.6 L272.6 292.4 L272.9 291.2 L273.2 290.0 L273.5 288.9 L273.8 287.7 L274.1 286.5 L274.4 285.4 L274.7 284.2 L275.0 283.0 L275.3 281.8 L275.5 280.7 L275.8 279.5 L276.1 278.3 L276.4 277.2 L276.6 276.0 L276.9 274.8 L277.2 273.7 L277.4 272.5 L277.7 271.4 L277.9 270.2 L278.2 269.0 L278.5 267.9 L278.7 266.7 L279.0 265.5 L279.2 264.4 L279.5 263.2 L279.7 262.1 L279.9 260.9 L280.2 259.7 L280.4 258.6 L280.7 257.4 L280.9 256.2 L281.1 255.1 L281.4 253.9 L281.6 252.8 L281.8 251.6 L282.1 250.4 L282.3 249.2 L282.5 248.1 L282.7 246.9 L283.0 245.7 L283.2 244.6 L283.4 243.4 L283.6 242.2 L283.9 241.1 L284.1 239.9 L284.3 238.7 L284.5 237.5 L284.7 236.4 L284.9 235.2 L285.1 234.0 L285.4 232.8 L285.6 231.7 L285.8 230.5 L286.0 229.3 L286.2 228.1 L286.4 226.9 L286.6 225.8 L286.8 224.6 L287.0 223.4 L287.2 222.2 L287.4 221.0 L287.6 219.9 L287.9 218.7 L288.1 217.5 L288.3 216.3 L288.5 215.1 L288.7 213.9 L288.9 212.8 L289.1 211.6 L289.3 210.4 L289.5 209.2 L289.7 208.0 L289.9 206.8 L290.1 205.7 L290.3 204.5 L290.5 203.3 L290.7 202.1 L290.9 200.9 L291.1 199.7 L291.3 198.6 L291.5 197.4 L291.7 196.2 L291.9 195.0 L292.1 193.8 L292.3 192.6 L292.5 191.4 L292.7 190.3 L292.9 189.1 L293.1 187.9 L293.3 186.7 L293.5 185.5 L293.7 184.3 L293.9 183.1 L294.1 182.0 L294.3 180.8 L294.5 179.6 L294.7 178.4 L294.9 177.2 L295.1 176.0 L295.3 174.9 L295.6 173.7 L295.8 172.5 L296.0 171.3 L296.2 170.1 L296.4 168.9 L296.6 167.8 L296.8 166.6 L297.0 165.4 L297.3 164.2 L297.5 163.0 L297.7 161.9 L297.9 160.7 L298.1 159.5 L298.3 158.3 L298.6 157.1 L298.8 156.0 L299.0 154.8 L299.2 153.6 L299.5 152.4 L299.7 151.2 L299.9 150.1 L300.2 148.9 L300.4 147.7 L300.6 146.5 L300.9 145.4 L301.1 144.2 L301.3 143.0 L301.6 141.8 L301.8 140.7 L302.0 139.5 L302.3 138.3 L302.5 137.2 L302.8 136.0 L303.0 134.8 L303.3 133.6 L303.5 132.5 L303.7 131.3 L304.0 130.1 L304.2 129.0 L304.5 127.8 L304.7 126.6 L305.0 125.5 L305.2 124.3 L305.5 123.1 L305.8 122.0 L306.0 120.8 L306.3 119.6 L306.5 118.5 L306.8 117.3 L307.0 116.1 L307.3 115.0 L307.6 113.8 L307.8 112.6 L308.1 111.5 L308.4 110.3 L308.6 109.1 L308.9 108.0 L309.2 106.8 L309.4 105.7 L309.7 104.5 L310.0 103.3 L310.2 102.2 L310.5 101.0 L310.8 99.9 L311.1 98.7 L311.4 97.5 L311.7 96.4 L311.9 95.2 L312.2 94.1 L312.5 92.9 L312.8 91.8 L313.1 90.6 L313.4 89.4 L313.8 88.3 L314.1 87.1 L314.4 86.0 L314.7 84.8 L315.1 83.6 L315.4 82.5 L315.7 81.3 L316.1 80.2 L316.4 79.0 L316.8 77.9 L317.2 76.7 L317.5 75.5 L317.9 74.4 L318.3 73.2 L318.7 72.1 L319.1 70.9 L319.6 69.8 L320.0 68.7 L320.5 67.5 L320.9 66.4 L321.4 65.3 L321.9 64.2 L322.4 63.1 L322.9 62.0 L323.4 60.9 L324.0 59.8 L324.6 58.8 L325.1 57.7 L325.7 56.7 L326.4 55.6 L327.0 54.6 L327.7 53.6 L328.4 52.7 L329.1 51.7 L329.8 50.8 L330.6 49.9 L331.3 49.0 L332.1 48.2 L333.0 47.4 L333.8 46.6 L334.7 45.8 L335.6 45.1 L336.5 44.4 L337.5 43.7 L338.5 43.1 L339.5 42.5 L340.5 41.9 L341.5 41.3 L342.6 40.8 L343.6 40.3 L344.7 39.8 L345.8 39.4 L346.9 38.9 L348.1 38.5 L349.2 38.1 L350.3 37.8 L351.5 37.4 L352.6 37.1 L353.8 36.8 L354.9 36.5 L356.1 36.2 L357.3 35.9 L358.4 35.7 L359.6 35.4 L360.8 35.2 L361.9 35.0 L363.1 34.8 L364.3 34.6 L365.5 34.5 L366.6 34.3 L367.8 34.2 L369.0 34.1 L370.2 33.9 L371.4 33.8 L372.6 33.7 L373.8 33.6 L374.9 33.6 L376.1 33.5 L377.3 33.4 L378.5 33.4 L379.7 33.3 L380.9 33.3 L382.1 33.2 L383.3 33.2 L384.5 33.2 L385.7 33.2 L386.9 33.1 L388.1 33.1 L389.3 33.1 L390.5 33.1 L391.7 33.1 L392.9 33.1 L394.2 33.1 L395.4 33.1 L396.6 33.1 L397.8 33.2 L399.0 33.2 L400.2 33.2 L401.4 33.2 L402.6 33.2 L403.8 33.2 L405.0 33.2 L406.2 33.2 L407.4 33.2 L408.6 33.2 L409.8 33.2 L411.0 33.2 L412.2 33.2 L413.4 33.2 L414.6 33.2 L415.8 33.2 L417.0 33.3 L418.2 33.3 L419.4 33.3 L420.6 33.3 L421.8 33.3 L423.0 33.3 L424.2 33.3 L425.4 33.3 L426.6 33.3 L427.8 33.3 L429.0 33.3 L430.2 33.3 L431.4 33.3 L432.6 33.3 L433.8 33.3 L435.0 33.3 L436.2 33.3 L437.4 33.3 L438.6 33.3 L439.8 33.3 L441.0 33.3 L442.2 33.3 L443.4 33.3 L444.6 33.3 L445.8 33.3 L447.0 33.3 L448.2 33.3 L449.4 33.3 L450.6 33.3 L451.8 33.3 L453.0 33.3 L454.2 33.3 L455.4 33.3 L456.6 33.3 L457.8 33.3 L459.0 33.3 L460.2 33.3 L461.4 33.3 L462.6 33.3 L463.8 33.3 L465.0 33.3 L466.2 33.3 L467.4 33.3 L468.6 33.3 L469.8 33.3 L471.0 33.3 L472.2 33.3 L473.4 33.3 L474.6 33.3 L475.8 33.3 L477.0 33.3 L478.2 33.3 L479.4 33.3 L480.6 33.3 L481.8 33.3 L483.0 33.3 L484.2 33.3 L485.4 33.3 L486.6 33.3 L487.8 33.3 L489.0 33.3 L490.2 33.3 L491.4 33.3 L492.6 33.3 L493.8 33.3 L495.0 33.3 L496.2 33.3 L497.4 33.3 L498.6 33.3 L499.8 33.3 L501.0 33.3 L502.2 33.3 L503.4 33.3 L504.6 33.3 L505.8 33.3 L507.0 33.3 L508.2 33.2 L509.4 33.2 L510.5 33.2 L511.7 33.2 L512.9 33.2 L514.1 33.2 L515.3 33.2 L516.5 33.2 L517.7 33.2 L518.9 33.2 L520.1 33.2 L521.3 33.2 L522.5 33.2 L523.7 33.2 L524.9 33.2 L526.1 33.2 L527.3 33.2 L528.5 33.2 L529.7 33.2 L530.9 33.2 L532.1 33.2 L533.3 33.2 L534.5 33.2 L535.7 33.2 L536.9 33.2 L538.1 33.2 L539.3 33.2 L540.5 33.2 L541.7 33.2 L542.9 33.2 L544.1 33.2 L545.3 33.2 L546.5 33.2 L547.7 33.2 L548.9 33.2 L550.1 33.2 L551.3 33.2 L552.4 33.2 L553.6 33.2 L554.8 33.1 L556.0 33.1 L557.2 33.1 L558.4 33.1 L559.6 33.1 L560.8 33.1 L562.0 33.1 L563.2 33.1 L564.4 33.1 L565.6 33.1 L566.8 33.1 L568.0 33.1 L569.2 33.1 L570.4 33.1 L571.6 33.1 L572.8 33.1 L574.0 33.1 L575.2 33.1 L576.4 33.1 L577.6 33.1 L578.8 33.1 L580.0 33.1 L581.2 33.1 L582.4 33.1 L583.6 33.1 L584.8 33.1 L586.0 33.1 L587.2 33.1 L588.4 33.1 L589.6 33.1 L590.8 33.1 L592.0 33.1 L593.2 33.1 L594.4 33.1 L595.6 33.1 L596.8 33.1 L598.0 33.1 L599.2 33.1 L600.4 33.1 L601.6 33.1 L602.8 33.1 L604.0 33.1 L605.2 33.2 L606.4 33.2 L607.6 33.2 L608.8 33.2 L610.0 33.2 L611.2 33.2 L612.4 33.2 L613.6 33.2 L614.8 33.2 L616.0 33.2 L617.2 33.2 L618.4 33.2 L619.6 33.2 L620.8 33.2 L622.0 33.2" stroke="#00f" />
<path d="M57.2 453.6 L58.4 453.6 L59.6 453.6 L60.8 453.6 L62.0 453.7 L63.2 453.7 L64.4 453.7 L65.6 453.7 L66.8 453.7 L68.0 453.7 L69.2 453.7 L70.4 453.7 L71.6 453.7 L72.8 453.7 L74.0 453.7 L75.2 453.8 L76.4 453.8 L77.6 453.8 L78.8 453.8 L80.0 453.8 L81.2 453.8 L82.4 453.8 L83.6 453.8 L84.8 453.8 L86.0 453.8 L87.2 453.8 L88.4 453.8 L89.6 453.8 L90.8 453.8 L92.0 453.8 L93.2 453.8 L94.4 453.8 L95.6 453.8 L96.8 453.8 L98.0 453.8 L99.2 453.8 L100.4 453.8 L101.6 453.8 L102.8 453.8 L104.0 453.8 L105.2 453.8 L106.4 453.8 L107.6 453.8 L108.8 453.8 L109.9 453.8 L111.1 453.8 L112.3 453.8 L113.5 453.8 L114.7 453.8 L115.9 453.8 L117.1 453.8 L118.3 453.9 L119.5 453.9 L120.7 453.9 L121.9 453.9 L123.1 453.9 L124.3 453.9 L125.5 454.0 L126.7 454.0 L127.9 454.0 L129.1 454.0 L130.3 454.1 L131.5 454.1 L132.7 454.1 L133.8 454.1 L135.0 454.2 L136.2 454.2 L137.4 454.2 L138.6 454.3 L139.8 454.3 L141.0 454.4 L142.2 454.4 L143.4 454.5 L144.6 454.5 L145.8 454.6 L147.0 454.6 L148.2 454.7 L149.4 454.7 L150.6 454.8 L151.8 454.8 L153.0 454.9 L154.2 455.0 L155.4 455.0 L156.6 455.1 L157.8 455.2 L159.0 455.3 L160.2 455.4 L161.4 455.4 L162.6 455.5 L163.8 455.6 L165.0 455.7 L166.2 455.8 L167.4 455.9 L168.7 456.0 L169.9 456.1 L171.1 456.3 L172.3 456.4 L173.5 456.5 L174.7 456.6 L175.9 456.7 L177.0 456.9 L178.2 457.0 L179.4 457.2 L180.6 457.3 L181.8 457.5 L183.0 457.6 L184.2 457.8 L185.4 458.0 L186.6 458.1 L187.8 458.3 L189.0 458.5 L190.2 458.7 L191.3 458.9 L192.5 459.1 L193.7 459.3 L194.9 459.5 L196.1 459.7 L197.3 459.9 L198.4 460.2 L199.6 460.4 L200.8 460.6 L201.9 460.9 L203.1 461.1 L204.3 461.4 L205.4 461.7 L206.6 461.9 L207.8 462.2 L208.9 462.5 L210.1 462.8 L211.2 463.1 L212.4 463.4 L213.5 463.7 L214.7 464.0 L215.8 464.4 L217.0 464.7 L218.1 465.1 L219.2 465.4 L220.4 465.8 L221.5 466.1 L222.6 466.5 L223.8 466.9 L224.9 467.3 L226.0 467.7 L227.1 468.1 L228.2 468.5 L229.3 469.0 L230.4 469.4 L231.5 469.8 L232.6 470.3 L233.7 470.8 L234.8 471.2 L235.9 471.7 L237.0 472.2 L238.1 472.7 L239.2 473.2 L240.2 473.7 L241.3 474.2 L242.4 474.8 L243.4 475.3 L244.5 475.9 L245.5 476.5 L246.6 477.0 L247.6 477.6 L248.7 478.2 L249.7 478.8 L250.7 479.4 L251.8 480.1 L252.8 480.7 L253.8 481.3 L254.8 482.0 L255.8 482.6 L256.8 483.3 L257.8 484.0 L258.8 484.7 L259.8 485.4 L260.8 486.1 L261.7 486.8 L262.7 487.5 L263.6 488.3 L264.6 489.0 L265.5 489.8 L266.5 490.5 L267.4 491.3 L268.3 492.1 L269.2 492.9 L270.1 493.7 L271.0 494.5 L271.9 495.3 L272.8 496.1 L273.7 496.9 L274.5 497.8 L275.4 498.6 L276.2 499.5 L277.1 500.3 L277.9 501.2 L278.7 502.1 L279.5 503.0 L280.3 503.8 L281.1 504.7 L281.9 505.7 L282.7 506.6 L283.5 507.5 L284.2 508.4 L285.0 509.4 L285.7 510.3 L286.4 511.3 L287.1 512.2 L287.9 513.2 L288.6 514.2 L289.2 515.1 L289.9 516.1 L290.6 517.1 L291.3 518.1 L291.9 519.1 L292.6 520.1 L293.2 521.1 L293.9 522.2 L294.5 523.2 L295.1 524.2 L295.7 525.2 L296.3 526.3 L296.9 527.3 L297.5 528.3 L298.1 529.4 L298.7 530.4 L299.3 531.5 L299.8 532.6 L300.4 533.6 L300.9 534.7 L301.5 535.7 L302.0 536.8 L302.5 537.9 L303.1 539.0 L303.6 540.0 L304.1 541.1 L304.6 542.2 L305.1 543.3 L305.6 544.4 L306.1 545.5 L306.6 546.5 L307.0 547.6 L307.5 548.7 L308.0 549.8 L308.4 550.9 L308.9 552.0 L309.3 553.1 L309.8 554.3 L310.2 555.4 L310.7 556.5 L311.1 557.6 L311.5 558.7 L311.9 559.8 L312.4 560.9 L312.8 562.1 L313.2 563.2 L313.6 564.3 L314.0 565.4 L314.4 566.6 L314.8 567.7 L315.1 568.8 L315.5 570.0 L315.9 571.1 L316.3 572.2 L316.7 573.4 L317.0 574.5 L317.4 575.7 L317.8 576.8 L318.1 577.9 L318.5 579.1 L318.8 580.2 L319.2 581.4 L319.5 582.5 L319.9 583.7 L320.2 584.8 L320.5 586.0 L320.9 587.1 L321.2 588.3 L321.5 589.4 L321.9 590.6 L322.2 591.8 L322.5 592.9 L322.8 594.1 L323.1 595.2 L323.5 596.4 L323.8 597.5 L324.1 598.7 L324.4 599.9 L324.7 601.0 L325.0 602.2 L325.3 603.4 L325.6 604.5 L325.9 605.7 L326.2 606.8 L326.5 608.0 L326.8 609.2 L327.1 610.3 L327.4 611.5 L327.7 612.7 L328.0 613.8 L328.3 615.0 L328.6 616.2 L328.9 617.3 L329.2 618.5 L329.5 619.7 L329.8 620.8 L330.1 622.0 L330.4 623.2 L330.7 624.3 L331.0 625.5 L331.3 626.7 L331.6 627.8 L331.9 629.0 L332.2 630.1 L332.5 631.3 L332.8 632.5 L333.1 633.6 L333.4 634.8 L333.7 636.0 L334.0 637.1 L334.3 638.3 L334.6 639.4 L334.9 640.6 L335.2 641.8 L335.5 642.9 L335.8 644.1 L336.1 645.2 L336.4 646.4 L336.7 647.5 L337.0 648.7 L337.3 649.9 L337.6 651.0 L337.9 652.2 L338.2 653.3 L338.5 654.5 L338.8 655.6 L339.1 656.8 L339.4 658.0 L339.8 659.1 L340.1 660.3 L340.4 661.4 L340.7 662.6 L341.0 663.7 L341.3 664.9 L341.6 666.0 L341.9 667.2 L342.2 668.4 L342.5 669.5 L342.8 670.7 L343.1 671.8 L343.4 673.0 L343.8 674.1 L344.1 675.3 L344.4 676.4 L344.7 677.6 L345.0 678.7 L345.3 679.9 L345.6 681.1 L345.9 682.2 L346.2 683.4 L346.5 684.5 L346.8 685.7 L347.2 686.8 L347.5 688.0 L347.8 689.1 L348.1 690.3 L348.4 691.4 L348.7 692.6 L349.1 693.7 L349.4 694.9 L349.7 696.0 L350.0 697.2 L350.4 698.3 L350.7 699.5 L351.0 700.6 L351.4 701.8 L351.7 702.9 L352.1 704.1 L352.4 705.2 L352.8 706.4 L353.1 707.5 L353.5 708.6 L353.8 709.8 L354.2 710.9 L354.6 712.1 L354.9 713.2 L355.3 714.3 L355.7 715.5 L356.1 716.6 L356.5 717.7 L356.9 718.9 L357.3 720.0 L357.7 721.1 L358.1 722.3 L358.6 723.4 L359.0 724.5 L359.4 725.6 L359.9 726.8 L360.3 727.9 L360.8 729.0 L361.3 730.1 L361.8 731.2 L362.3 732.3 L362.8 733.4 L363.3 734.5 L363.9 735.6 L364.4 736.6 L365.0 737.7 L365.6 738.8 L366.2 739.9 L366.8 740.9 L367.4 742.0 L368.0 743.0 L368.7 744.0 L369.4 745.1 L370.1 746.1 L370.8 747.1 L371.5 748.0 L372.3 749.0 L373.0 749.9 L373.8 750.9 L374.6 751.7 L375.4 752.6 L376.3 753.5 L377.1 754.3 L378.0 755.1 L378.9 755.8 L379.8 756.5 L380.7 757.2 L381.7 757.9 L382.6 758.5 L383.6 759.1 L384.6 759.6 L385.6 760.1 L386.7 760.6 L387.7 761.1 L388.8 761.5 L389.9 762.0 L390.9 762.3 L392.0 762.7 L393.2 763.0 L394.3 763.4 L395.4 763.7 L396.6 763.9 L397.7 764.2 L398.9 764.4 L400.1 764.7 L401.2 764.9 L402.4 765.1 L403.6 765.2 L404.8 765.4 L406.0 765.6 L407.2 765.7 L408.4 765.8 L409.6 766.0 L410.8 766.1 L412.1 766.2 L413.3 766.3 L414.5 766.4 L415.7 766.5 L416.9 766.6 L418.1 766.7 L419.3 766.8 L420.5 766.9 L421.8 767.0 L423.0 767.1 L424.2 767.1 L425.4 767.2 L426.6 767.3 L427.8 767.4 L429.0 767.4 L430.2 767.5 L431.4 767.6 L432.6 767.6 L433.8 767.7 L435.0 767.7 L436.2 767.8 L437.4 767.8 L438.6 767.9 L439.9 767.9 L441.1 768.0 L442.3 768.0 L443.5 768.0 L444.7 768.1 L445.9 768.1 L447.1 768.1 L448.3 768.2 L449.5 768.2 L450.7 768.2 L451.9 768.3 L453.1 768.3 L454.3 768.3 L455.5 768.3 L456.7 768.3 L457.9 768.4 L459.1 768.4 L460.3 768.4 L461.4 768.4 L462.6 768.4 L463.8 768.4 L465.0 768.4 L466.2 768.4 L467.4 768.4 L468.6 768.4 L469.8 768.4 L471.0 768.4 L472.2 768.4 L473.4 768.4 L474.6 768.4 L475.8 768.4 L477.0 768.4 L478.2 768.4 L479.4 768.4 L480.6 768.4 L481.8 768.4 L483.0 768.4 L484.2 768.4 L485.4 768.4 L486.6 768.4 L487.7 768.4 L488.9 768.4 L490.1 768.4 L491.3 768.3 L492.5 768.3 L493.7 768.3 L494.9 768.3 L496.1 768.3 L497.3 768.3 L498.5 768.3 L499.7 768.3 L500.9 768.3 L502.1 768.2 L503.3 768.2 L504.5 768.2 L505.7 768.2 L506.9 768.2 L508.1 768.2 L509.3 768.2 L510.5 768.2 L511.7 768.2 L512.8 768.2 L514.0 768.2 L515.2 768.1 L516.4 768.1 L517.6 768.1 L518.8 768.1 L520.0 768.1 L521.2 768.1 L522.4 768.1 L523.6 768.1 L524.8 768.1 L526.0 768.1 L527.2 768.1 L528.4 768.1 L529.6 768.1 L530.8 768.1 L532.0 768.1 L533.2 768.1 L534.4 768.1 L535.6 768.1 L536.8 768.1 L538.0 768.1 L539.2 768.1 L540.4 768.1 L541.6 768.1 L542.8 768.2 L544.0 768.2 L545.2 768.2 L546.4 768.2 L547.6 768.2 L548.8 768.2 L550.0 768.2 L551.2 768.2 L552.4 768.2 L553.6 768.2 L554.8 768.2 L556.0 768.2 L557.2 768.2 L558.4 768.3 L559.6 768.3 L560.8 768.3 L562.0 768.3 L563.2 768.3 L564.5 768.3 L565.7 768.3 L566.9 768.3 L568.1 768.3 L569.3 768.3 L570.5 768.3 L571.7 768.3 L572.9 768.3 L574.1 768.4 L575.3 768.4 L576.5 768.4 L577.7 768.4 L578.9 768.4 L580.1 768.4 L581.3 768.4 L582.5 768.4 L583.7 768.4 L584.9 768.4 L586.1 768.4 L587.3 768.4 L588.5 768.4 L589.7 768.4 L590.9 768.4 L592.1 768.4 L593.3 768.4 L594.5 768.4 L595.7 768.4 L596.9 768.4 L598.1 768.4 L599.3 768.4 L600.5 768.4 L601.7 768.4 L602.9 768.4 L604.1 768.4 L605.3 768.4 L606.5 768.4 L607.7 768.4 L608.9 768.4 L610.0 768.4 L611.2 768.4 L612.4 768.4 L613.6 768.4 L614.8 768.4 L616.0 768.4 L617.2 768.4 L618.4 768.3 L619.6 768.3 L620.8 768.3 L622.0 768.3" stroke="#000" />
<path d="M57.0 768.3 L58.2 768.3 L59.4 768.3 L60.6 768.3 L61.8 768.3 L63.0 768.3 L64.2 768.2 L65.4 768.2 L66.6 768.2 L67.8 768.2 L69.0 768.2 L70.2 768.2 L71.4 768.2 L72.6 768.2 L73.8 768.2 L75.0 768.2 L76.2 768.1 L77.4 768.1 L78.6 768.1 L79.8 768.1 L81.0 768.1 L82.2 768.1 L83.4 768.1 L84.6 768.1 L85.8 768.0 L87.0 768.0 L88.2 768.0 L89.4 768.0 L90.6 768.0 L91.8 768.0 L93.0 767.9 L94.2 767.9 L95.4 767.9 L96.5 767.9 L97.7 767.9 L98.9 767.8 L100.1 767.8 L101.3 767.8 L102.5 767.8 L103.7 767.7 L104.9 767.7 L106.1 767.7 L107.3 767.7 L108.5 767.6 L109.7 767.6 L110.9 767.6 L112.1 767.6 L113.3 767.5 L114.5 767.5 L115.6 767.5 L116.8 767.4 L118.0 767.4 L119.2 767.4 L120.4 767.3 L121.6 767.3 L122.8 767.2 L124.0 767.2 L125.2 767.2 L126.4 767.1 L127.6 767.1 L128.8 767.0 L130.0 767.0 L131.2 766.9 L132.4 766.9 L133.6 766.8 L134.8 766.8 L136.0 766.7 L137.2 766.7 L138.4 766.6 L139.6 766.6 L140.8 766.5 L142.0 766.5 L143.2 766.4 L144.4 766.3 L145.6 766.3 L146.8 766.2 L148.0 766.1 L149.2 766.1 L150.4 766.0 L151.6 765.9 L152.8 765.8 L154.0 765.8 L155.2 765.7 L156.4 765.6 L157.6 765.5 L158.8 765.4 L160.0 765.4 L161.2 765.3 L162.4 765.2 L163.6 765.1 L164.8 765.0 L166.0 764.9 L167.2 764.8 L168.4 764.6 L169.5 764.5 L170.7 764.4 L171.9 764.3 L173.1 764.2 L174.3 764.0 L175.5 763.9 L176.7 763.8 L177.9 763.6 L179.1 763.5 L180.3 763.3 L181.5 763.2 L182.7 763.0 L183.9 762.8 L185.0 762.7 L186.2 762.5 L187.4 762.3 L188.6 762.1 L189.8 761.9 L191.0 761.7 L192.1 761.5 L193.3 761.3 L194.5 761.1 L195.7 760.9 L196.8 760.7 L198.0 760.4 L199.2 760.2 L200.4 759.9 L201.5 759.7 L202.7 759.4 L203.8 759.2 L205.0 758.9 L206.2 758.6 L207.3 758.3 L208.5 758.0 L209.6 757.7 L210.8 757.4 L211.9 757.1 L213.1 756.8 L214.2 756.5 L215.4 756.1 L216.5 755.8 L217.7 755.5 L218.8 755.1 L219.9 754.7 L221.1 754.4 L222.2 754.0 L223.3 753.6 L224.4 753.2 L225.6 752.8 L226.7 752.4 L227.8 752.0 L228.9 751.5 L230.0 751.1 L231.1 750.7 L232.2 750.2 L233.3 749.7 L234.4 749.3 L235.5 748.8 L236.6 748.3 L237.7 747.8 L238.8 747.4 L239.9 746.9 L241.0 746.3 L242.1 745.8 L243.1 745.3 L244.2 744.8 L245.3 744.2 L246.3 743.7 L247.4 743.1 L248.5 742.6 L249.5 742.0 L250.6 741.4 L251.6 740.9 L252.7 740.3 L253.7 739.7 L254.8 739.1 L255.8 738.5 L256.8 737.8 L257.8 737.2 L258.9 736.6 L259.9 736.0 L260.9 735.3 L261.9 734.7 L262.9 734.0 L263.9 733.3 L264.9 732.7 L265.9 732.0 L266.9 731.3 L267.9 730.6 L268.9 729.9 L269.9 729.2 L270.9 728.5 L271.8 727.8 L272.8 727.0 L273.8 726.3 L274.7 725.6 L275.7 724.8 L276.6 724.0 L277.6 723.3 L278.5 722.5 L279.5 721.7 L280.4 721.0 L281.3 720.2 L282.3 719.4 L283.2 718.6 L284.1 717.9 L285.1 717.1 L286.0 716.4 L286.9 715.6 L287.9 714.9 L288.8 714.1 L289.8 713.4 L290.8 712.7 L291.7 712.0 L292.7 711.3 L293.7 710.6 L294.7 710.0 L295.7 709.4 L296.7 708.8 L297.7 708.2 L298.7 707.6 L299.8 707.1 L300.8 706.6 L301.9 706.1 L303.0 705.6 L304.1 705.2 L305.2 704.8 L306.4 704.5 L307.5 704.2 L308.7 703.9 L309.9 703.6 L311.1 703.5 L312.3 703.3 L313.5 703.3 L314.6 703.2 L315.8 703.3 L317.0 703.5 L318.1 703.7 L319.2 704.0 L320.3 704.4 L321.3 704.9 L322.3 705.5 L323.3 706.2 L324.2 707.1 L325.1 708.0 L326.0 708.9 L326.9 709.9 L327.7 710.8 L328.6 711.7 L329.5 712.6 L330.3 713.5 L331.2 714.4 L332.1 715.2 L332.9 716.1 L333.7 717.0 L334.5 717.9 L335.3 718.8 L336.1 719.7 L336.8 720.6 L337.6 721.5 L338.3 722.5 L339.0 723.4 L339.7 724.4 L340.4 725.4 L341.1 726.4 L341.7 727.3 L342.4 728.3 L343.1 729.3 L343.7 730.3 L344.4 731.3 L345.0 732.3 L345.7 733.3 L346.4 734.3 L347.0 735.3 L347.7 736.2 L348.4 737.2 L349.1 738.2 L349.8 739.2 L350.5 740.1 L351.2 741.1 L351.9 742.0 L352.7 742.9 L353.5 743.9 L354.2 744.8 L355.0 745.7 L355.8 746.5 L356.7 747.4 L357.5 748.3 L358.4 749.1 L359.2 749.9 L360.1 750.7 L361.0 751.5 L361.9 752.3 L362.8 753.1 L363.8 753.8 L364.7 754.5 L365.7 755.2 L366.6 755.9 L367.6 756.6 L368.6 757.2 L369.6 757.9 L370.7 758.5 L371.7 759.0 L372.7 759.6 L373.8 760.1 L374.9 760.6 L375.9 761.1 L377.0 761.6 L378.1 762.0 L379.3 762.4 L380.4 762.8 L381.5 763.1 L382.6 763.5 L383.8 763.8 L385.0 764.1 L386.1 764.3 L387.3 764.6 L388.5 764.8 L389.6 765.1 L390.8 765.3 L392.0 765.5 L393.2 765.6 L394.4 765.8 L395.6 766.0 L396.8 766.1 L398.0 766.2 L399.2 766.4 L400.4 766.5 L401.6 766.6 L402.8 766.7 L404.0 766.8 L405.2 766.9 L406.5 767.0 L407.7 767.1 L408.9 767.1 L410.1 767.2 L411.3 767.3 L412.5 767.4 L413.6 767.4 L414.8 767.5 L416.0 767.5 L417.2 767.6 L418.4 767.6 L419.6 767.7 L420.8 767.7 L422.0 767.7 L423.2 767.8 L424.4 767.8 L425.6 767.8 L426.8 767.9 L428.0 767.9 L429.2 767.9 L430.4 767.9 L431.6 768.0 L432.8 768.0 L434.0 768.0 L435.2 768.0 L436.3 768.0 L437.5 768.0 L438.7 768.1 L439.9 768.1 L441.1 768.1 L442.3 768.1 L443.5 768.1 L444.7 768.1 L445.9 768.1 L447.1 768.1 L448.3 768.1 L449.5 768.2 L450.7 768.2 L451.9 768.2 L453.1 768.2 L454.3 768.2 L455.5 768.2 L456.7 768.2 L457.9 768.2 L459.1 768.2 L460.2 768.2 L461.4 768.2 L462.6 768.2 L463.8 768.2 L465.0 768.3 L466.2 768.3 L467.4 768.3 L468.6 768.3 L469.8 768.3 L471.0 768.3 L472.2 768.3 L473.4 768.3 L474.6 768.3 L475.8 768.3 L477.0 768.3 L478.2 768.3 L479.4 768.3 L480.6 768.3 L481.8 768.3 L483.0 768.3 L484.2 768.3 L485.4 768.3 L486.6 768.3 L487.8 768.3 L489.0 768.3 L490.2 768.3 L491.4 768.3 L492.6 768.3 L493.8 768.3 L495.0 768.3 L496.2 768.3 L497.4 768.3 L498.6 768.3 L499.8 768.3 L501.0 768.3 L502.2 768.3 L503.4 768.3 L504.6 768.3 L505.8 768.3 L507.0 768.3 L508.2 768.3 L509.4 768.3 L510.6 768.3 L511.8 768.3 L513.0 768.3 L514.2 768.3 L515.4 768.3 L516.6 768.3 L517.8 768.3 L519.0 768.3 L520.2 768.3 L521.4 768.3 L522.6 768.3 L523.8 768.3 L525.0 768.3 L526.2 768.3 L527.4 768.3 L528.6 768.3 L529.8 768.3 L531.0 768.3 L532.2 768.3 L533.4 768.3 L534.6 768.3 L535.8 768.3 L537.0 768.3 L538.2 768.3 L539.4 768.3 L540.6 768.3 L541.8 768.3 L543.0 768.3 L544.2 768.3 L545.3 768.3 L546.5 768.3 L547.7 768.3 L548.9 768.3 L550.1 768.3 L551.3 768.3 L552.5 768.3 L553.7 768.3 L554.9 768.3 L556.1 768.4 L557.3 768.4 L558.5 768.4 L559.7 768.4 L560.9 768.4 L562.1 768.4 L563.3 768.4 L564.5 768.4 L565.7 768.4 L566.9 768.4 L568.1 768.4 L569.3 768.4 L570.5 768.4 L571.7 768.4 L572.9 768.4 L574.1 768.4 L575.3 768.4 L576.5 768.4 L577.7 768.4 L578.9 768.4 L580.1 768.4 L581.3 768.4 L582.5 768.4 L583.7 768.4 L584.9 768.4 L586.1 768.4 L587.2 768.4 L588.4 768.4 L589.6 768.4 L590.8 768.4 L592.0 768.4 L593.2 768.4 L594.4 768.4 L595.6 768.4 L596.8 768.4 L598.0 768.4 L599.2 768.4 L600.4 768.4 L601.6 768.4 L602.8 768.4 L604.0 768.4 L605.2 768.4 L606.4 768.4 L607.6 768.4 L608.8 768.4 L610.0 768.4 L611.2 768.4 L612.4 768.4 L613.6 768.4 L614.8 768.4 L616.0 768.4 L617.2 768.4 L618.4 768.4 L619.6 768.4 L620.8 768.4 L622.0 768.4" stroke="#f00" />
<path d="M57.0 768.3 L58.2 768.3 L59.4 768.3 L60.6 768.3 L61.8 768.3 L63.0 768.3 L64.2 768.3 L65.4 768.3 L66.6 768.3 L67.8 768.3 L69.0 768.3 L70.2 768.3 L71.4 768.3 L72.6 768.3 L73.8 768.3 L75.0 768.3 L76.2 768.3 L77.4 768.3 L78.6 768.3 L79.8 768.3 L81.0 768.3 L82.2 768.3 L83.4 768.3 L84.6 768.2 L85.8 768.2 L87.0 768.2 L88.2 768.2 L89.4 768.2 L90.6 768.2 L91.8 768.2 L93.0 768.2 L94.2 768.2 L95.4 768.2 L96.6 768.2 L97.8 768.2 L99.0 768.2 L100.2 768.3 L101.4 768.3 L102.6 768.3 L103.8 768.3 L105.0 768.3 L106.2 768.3 L107.4 768.3 L108.6 768.3 L109.8 768.3 L111.0 768.3 L112.2 768.3 L113.4 768.3 L114.6 768.3 L115.8 768.3 L117.0 768.3 L118.2 768.3 L119.4 768.3 L120.6 768.3 L121.8 768.3 L123.0 768.3 L124.2 768.3 L125.4 768.3 L126.6 768.3 L127.8 768.3 L129.0 768.3 L130.2 768.3 L131.4 768.3 L132.6 768.3 L133.8 768.3 L135.0 768.3 L136.2 768.3 L137.4 768.3 L138.6 768.3 L139.8 768.3 L141.0 768.3 L142.2 768.3 L143.4 768.3 L144.6 768.3 L145.8 768.3 L147.0 768.3 L148.2 768.3 L149.4 768.3 L150.6 768.3 L151.8 768.3 L153.0 768.3 L154.2 768.3 L155.4 768.3 L156.6 768.3 L157.8 768.3 L159.0 768.3 L160.2 768.3 L161.4 768.3 L162.6 768.3 L163.8 768.3 L165.0 768.3 L166.2 768.3 L167.4 768.3 L168.6 768.2 L169.8 768.2 L171.0 768.2 L172.2 768.2 L173.4 768.2 L174.6 768.2 L175.8 768.2 L177.0 768.2 L178.2 768.2 L179.4 768.2 L180.6 768.2 L181.8 768.2 L183.0 768.2 L184.2 768.2 L185.4 768.2 L186.6 768.2 L187.8 768.2 L189.0 768.2 L190.2 768.2 L191.4 768.2 L192.6 768.2 L193.8 768.1 L195.0 768.1 L196.2 768.1 L197.4 768.1 L198.6 768.1 L199.8 768.1 L201.0 768.1 L202.2 768.1 L203.4 768.1 L204.6 768.1 L205.8 768.1 L207.0 768.0 L208.2 768.0 L209.4 768.0 L210.6 768.0 L211.8 768.0 L213.0 768.0 L214.2 768.0 L215.4 768.0 L216.6 768.0 L217.8 767.9 L219.0 767.9 L220.2 767.9 L221.4 767.9 L222.6 767.9 L223.8 767.9 L225.0 767.9 L226.2 767.8 L227.4 767.8 L228.6 767.8 L229.8 767.8 L231.0 767.8 L232.2 767.8 L233.4 767.7 L234.6 767.7 L235.8 767.7 L237.0 767.7 L238.2 767.7 L239.3 767.6 L240.5 767.6 L241.7 767.6 L242.9 767.6 L244.1 767.6 L245.3 767.5 L246.5 767.5 L247.7 767.5 L248.9 767.4 L250.1 767.4 L251.3 767.4 L252.5 767.3 L253.7 767.3 L254.9 767.2 L256.1 767.2 L257.3 767.1 L258.5 767.0 L259.7 767.0 L260.9 766.9 L262.1 766.8 L263.3 766.7 L264.5 766.6 L265.7 766.5 L266.9 766.4 L268.1 766.2 L269.3 766.1 L270.5 766.0 L271.7 765.8 L272.8 765.7 L274.0 765.5 L275.2 765.3 L276.4 765.1 L277.6 764.9 L278.8 764.7 L280.0 764.5 L281.2 764.3 L282.4 764.0 L283.6 763.8 L284.7 763.5 L285.9 763.2 L287.1 762.9 L288.3 762.6 L289.4 762.3 L290.6 761.9 L291.7 761.5 L292.8 761.1 L294.0 760.7 L295.1 760.3 L296.2 759.8 L297.3 759.4 L298.3 758.9 L299.4 758.3 L300.4 757.8 L301.4 757.2 L302.4 756.6 L303.4 756.0 L304.4 755.3 L305.3 754.6 L306.3 753.9 L307.2 753.2 L308.0 752.4 L308.9 751.6 L309.7 750.8 L310.6 749.9 L311.4 749.0 L312.1 748.1 L312.9 747.2 L313.7 746.3 L314.4 745.3 L315.1 744.3 L315.8 743.3 L316.5 742.4 L317.2 741.4 L317.9 740.4 L318.6 739.3 L319.3 738.3 L320.0 737.3 L320.7 736.3 L321.4 735.3 L322.0 734.3 L322.7 733.3 L323.4 732.3 L324.1 731.3 L324.8 730.4 L325.5 729.4 L326.2 728.5 L326.9 727.5 L327.7 726.6 L328.4 725.7 L329.2 724.9 L330.0 724.0 L330.7 723.1 L331.5 722.3 L332.4 721.4 L333.2 720.6 L334.0 719.8 L334.9 718.9 L335.8 718.1 L336.7 717.3 L337.6 716.5 L338.6 715.7 L339.5 714.9 L340.5 714.1 L341.5 713.3 L342.6 712.6 L343.6 711.9 L344.7 711.3 L345.7 710.7 L346.8 710.2 L347.9 709.8 L349.1 709.4 L350.2 709.1 L351.3 708.9 L352.5 708.8 L353.6 708.8 L354.8 708.9 L356.0 709.0 L357.1 709.2 L358.3 709.5 L359.4 709.8 L360.6 710.1 L361.7 710.5 L362.9 711.0 L364.0 711.5 L365.1 712.0 L366.2 712.6 L367.3 713.1 L368.3 713.7 L369.4 714.4 L370.4 715.0 L371.4 715.6 L372.4 716.3 L373.3 717.0 L374.3 717.7 L375.3 718.4 L376.2 719.1 L377.2 719.8 L378.1 720.5 L379.0 721.2 L380.0 721.9 L380.9 722.7 L381.9 723.4 L382.8 724.1 L383.8 724.9 L384.7 725.6 L385.7 726.3 L386.6 727.1 L387.6 727.8 L388.5 728.6 L389.5 729.3 L390.5 730.0 L391.4 730.8 L392.4 731.5 L393.4 732.2 L394.4 732.9 L395.3 733.6 L396.3 734.3 L397.3 735.1 L398.3 735.8 L399.3 736.5 L400.3 737.1 L401.3 737.8 L402.3 738.5 L403.3 739.2 L404.3 739.8 L405.4 740.5 L406.4 741.1 L407.4 741.7 L408.4 742.4 L409.5 743.0 L410.5 743.6 L411.6 744.2 L412.6 744.7 L413.7 745.3 L414.8 745.8 L415.8 746.4 L416.9 746.9 L418.0 747.4 L419.0 747.9 L420.1 748.4 L421.2 748.9 L422.3 749.4 L423.4 749.9 L424.5 750.3 L425.6 750.7 L426.7 751.2 L427.8 751.6 L429.0 752.0 L430.1 752.4 L431.2 752.8 L432.3 753.2 L433.5 753.6 L434.6 753.9 L435.7 754.3 L436.9 754.6 L438.0 755.0 L439.2 755.3 L440.3 755.6 L441.5 756.0 L442.6 756.3 L443.8 756.6 L444.9 756.9 L446.1 757.1 L447.2 757.4 L448.4 757.7 L449.6 758.0 L450.8 758.2 L451.9 758.5 L453.1 758.7 L454.3 758.9 L455.4 759.2 L456.6 759.4 L457.8 759.6 L459.0 759.8 L460.2 760.1 L461.4 760.3 L462.5 760.5 L463.7 760.7 L464.9 760.8 L466.1 761.0 L467.3 761.2 L468.5 761.4 L469.7 761.6 L470.9 761.7 L472.0 761.9 L473.2 762.1 L474.4 762.2 L475.6 762.4 L476.8 762.5 L478.0 762.7 L479.2 762.8 L480.4 763.0 L481.6 763.1 L482.8 763.2 L484.0 763.4 L485.2 763.5 L486.3 763.6 L487.5 763.7 L488.7 763.9 L489.9 764.0 L491.1 764.1 L492.3 764.2 L493.5 764.3 L494.7 764.4 L495.9 764.5 L497.1 764.6 L498.3 764.7 L499.5 764.8 L500.7 764.9 L501.9 765.0 L503.1 765.1 L504.3 765.2 L505.5 765.2 L506.7 765.3 L507.9 765.4 L509.1 765.5 L510.3 765.5 L511.5 765.6 L512.7 765.7 L513.8 765.8 L515.0 765.8 L516.2 765.9 L517.4 765.9 L518.6 766.0 L519.8 766.1 L521.0 766.1 L522.2 766.2 L523.4 766.2 L524.6 766.3 L525.8 766.3 L527.0 766.4 L528.2 766.4 L529.4 766.4 L530.6 766.5 L531.8 766.5 L533.0 766.6 L534.2 766.6 L535.4 766.6 L536.6 766.7 L537.8 766.7 L539.0 766.7 L540.2 766.8 L541.4 766.8 L542.6 766.8 L543.8 766.9 L545.0 766.9 L546.2 766.9 L547.4 766.9 L548.6 767.0 L549.8 767.0 L551.0 767.0 L552.2 767.0 L553.4 767.0 L554.6 767.1 L555.8 767.1 L557.0 767.1 L558.2 767.1 L559.4 767.1 L560.6 767.2 L561.8 767.2 L563.0 767.2 L564.2 767.2 L565.4 767.2 L566.6 767.2 L567.8 767.2 L569.0 767.3 L570.2 767.3 L571.4 767.3 L572.6 767.3 L573.8 767.3 L575.0 767.3 L576.2 767.3 L577.4 767.4 L578.6 767.4 L579.8 767.4 L581.0 767.4 L582.2 767.4 L583.4 767.4 L584.6 767.4 L585.8 767.5 L587.0 767.5 L588.2 767.5 L589.4 767.5 L590.6 767.5 L591.8 767.5 L593.0 767.6 L594.2 767.6 L595.4 767.6 L596.6 767.6 L597.8 767.7 L599.0 767.7 L600.2 767.7 L601.4 767.7 L602.6 767.7 L603.8 767.8 L605.0 767.8 L606.2 767.8 L607.4 767.9 L608.6 767.9 L609.8 767.9 L611.0 768.0 L612.2 768.0 L613.4 768.0 L614.6 768.1 L615.8 768.1 L617.0 768.1 L618.2 768.2 L619.4 768.2 L620.6 768.3 L621.8 768.3" stroke="#0ff" />
<path d="M57.0 768.3 L58.2 768.3 L59.4 768.3 L60.6 768.3 L61.8 768.3 L63.0 768.3 L64.2 768.3 L65.4 768.3 L66.6 768.3 L67.8 768.4 L69.0 768.4 L70.2 768.4 L71.4 768.4 L72.6 768.4 L73.8 768.4 L75.0 768.4 L76.2 768.4 L77.4 768.4 L78.6 768.4 L79.8 768.4 L81.0 768.4 L82.2 768.4 L83.4 768.4 L84.6 768.4 L85.8 768.4 L87.0 768.4 L88.2 768.4 L89.4 768.4 L90.6 768.4 L91.8 768.4 L93.0 768.4 L94.2 768.4 L95.4 768.4 L96.6 768.4 L97.8 768.4 L99.0 768.3 L100.2 768.3 L101.4 768.3 L102.6 768.3 L103.8 768.3 L105.0 768.3 L106.2 768.3 L107.4 768.3 L108.6 768.3 L109.8 768.3 L111.0 768.3 L112.2 768.3 L113.4 768.3 L114.6 768.3 L115.8 768.3 L117.0 768.3 L118.2 768.3 L119.4 768.3 L120.6 768.3 L121.8 768.3 L123.0 768.3 L124.2 768.3 L125.4 768.3 L126.6 768.3 L127.8 768.3 L129.0 768.2 L130.2 768.2 L131.4 768.2 L132.6 768.2 L133.8 768.2 L135.0 768.2 L136.2 768.2 L137.4 768.2 L138.6 768.2 L139.8 768.2 L141.0 768.2 L142.2 768.2 L143.4 768.2 L144.6 768.2 L145.8 768.2 L147.0 768.2 L148.2 768.2 L149.4 768.2 L150.6 768.2 L151.8 768.2 L153.0 768.2 L154.2 768.2 L155.4 768.2 L156.6 768.2 L157.8 768.2 L159.0 768.2 L160.2 768.2 L161.4 768.2 L162.6 768.2 L163.8 768.2 L165.0 768.2 L166.2 768.2 L167.4 768.2 L168.6 768.2 L169.8 768.2 L171.0 768.2 L172.2 768.3 L173.4 768.3 L174.6 768.3 L175.8 768.3 L177.0 768.3 L178.2 768.3 L179.4 768.3 L180.6 768.3 L181.8 768.3 L183.0 768.3 L184.2 768.3 L185.4 768.3 L186.5 768.3 L187.7 768.3 L188.9 768.3 L190.1 768.3 L191.3 768.4 L192.5 768.4 L193.7 768.4 L194.9 768.4 L196.1 768.4 L197.3 768.4 L198.5 768.4 L199.7 768.4 L200.9 768.4 L202.1 768.4 L203.3 768.4 L204.5 768.4 L205.7 768.4 L206.9 768.4 L208.1 768.4 L209.3 768.4 L210.5 768.4 L211.7 768.4 L212.9 768.4 L214.1 768.4 L215.3 768.4 L216.5 768.4 L217.7 768.4 L218.9 768.4 L220.1 768.4 L221.3 768.4 L222.5 768.4 L223.7 768.4 L224.9 768.4 L226.1 768.4 L227.3 768.3 L228.5 768.3 L229.7 768.3 L230.9 768.3 L232.1 768.3 L233.3 768.3 L234.5 768.3 L235.7 768.3 L236.9 768.2 L238.1 768.2 L239.3 768.2 L240.5 768.2 L241.7 768.2 L242.9 768.1 L244.1 768.1 L245.3 768.1 L246.5 768.1 L247.7 768.0 L248.9 768.0 L250.1 768.0 L251.3 767.9 L252.5 767.9 L253.7 767.9 L254.9 767.8 L256.1 767.8 L257.3 767.8 L258.5 767.7 L259.8 767.7 L261.0 767.6 L262.2 767.6 L263.4 767.5 L264.6 767.5 L265.8 767.4 L267.0 767.4 L268.2 767.3 L269.4 767.3 L270.7 767.2 L271.9 767.2 L273.1 767.1 L274.3 767.0 L275.5 766.9 L276.7 766.9 L277.9 766.8 L279.1 766.6 L280.3 766.5 L281.5 766.4 L282.7 766.2 L283.9 766.0 L285.0 765.8 L286.2 765.5 L287.3 765.3 L288.5 765.0 L289.6 764.7 L290.7 764.3 L291.8 763.9 L292.9 763.5 L294.0 763.0 L295.1 762.5 L296.2 762.0 L297.2 761.4 L298.2 760.9 L299.2 760.2 L300.2 759.6 L301.2 758.9 L302.1 758.2 L303.1 757.5 L304.0 756.7 L304.9 756.0 L305.7 755.2 L306.6 754.3 L307.4 753.5 L308.2 752.7 L308.9 751.8 L309.7 750.9 L310.4 750.0 L311.1 749.0 L311.8 748.1 L312.4 747.1 L313.1 746.1 L313.7 745.1 L314.3 744.1 L314.8 743.1 L315.4 742.1 L315.9 741.0 L316.5 740.0 L317.0 738.9 L317.5 737.8 L317.9 736.7 L318.4 735.6 L318.8 734.5 L319.3 733.4 L319.7 732.3 L320.1 731.1 L320.5 730.0 L320.9 728.9 L321.3 727.7 L321.7 726.5 L322.0 725.4 L322.4 724.2 L322.8 723.0 L323.1 721.9 L323.4 720.7 L323.8 719.5 L324.1 718.3 L324.5 717.2 L324.8 716.0 L325.1 714.8 L325.4 713.6 L325.8 712.5 L326.1 711.3 L326.4 710.1 L326.7 708.9 L327.1 707.8 L327.4 706.6 L327.7 705.4 L328.0 704.3 L328.3 703.1 L328.7 701.9 L329.0 700.8 L329.3 699.6 L329.6 698.4 L329.9 697.2 L330.2 696.1 L330.5 694.9 L330.8 693.7 L331.1 692.6 L331.4 691.4 L331.7 690.3 L332.0 689.1 L332.3 687.9 L332.6 686.8 L332.9 685.6 L333.2 684.4 L333.5 683.3 L333.8 682.1 L334.1 680.9 L334.4 679.8 L334.7 678.6 L335.0 677.5 L335.3 676.3 L335.6 675.1 L335.8 674.0 L336.1 672.8 L336.4 671.6 L336.7 670.5 L337.0 669.3 L337.3 668.2 L337.6 667.0 L337.8 665.8 L338.1 664.7 L338.4 663.5 L338.7 662.4 L338.9 661.2 L339.2 660.0 L339.5 658.9 L339.8 657.7 L340.0 656.6 L340.3 655.4 L340.6 654.2 L340.9 653.1 L341.1 651.9 L341.4 650.8 L341.7 649.6 L341.9 648.4 L342.2 647.3 L342.5 646.1 L342.7 644.9 L343.0 643.8 L343.3 642.6 L343.5 641.5 L343.8 640.3 L344.1 639.1 L344.3 638.0 L344.6 636.8 L344.9 635.6 L345.1 634.5 L345.4 633.3 L345.6 632.1 L345.9 631.0 L346.2 629.8 L346.4 628.6 L346.7 627.5 L346.9 626.3 L347.2 625.1 L347.5 624.0 L347.7 622.8 L348.0 621.6 L348.2 620.5 L348.5 619.3 L348.8 618.1 L349.0 617.0 L349.3 615.8 L349.5 614.6 L349.8 613.5 L350.1 612.3 L350.3 611.1 L350.6 609.9 L350.9 608.8 L351.1 607.6 L351.4 606.4 L351.6 605.3 L351.9 604.1 L352.2 602.9 L352.4 601.8 L352.7 600.6 L353.0 599.4 L353.3 598.3 L353.5 597.1 L353.8 595.9 L354.1 594.7 L354.3 593.6 L354.6 592.4 L354.9 591.2 L355.2 590.1 L355.5 588.9 L355.7 587.7 L356.0 586.6 L356.3 585.4 L356.6 584.2 L356.9 583.1 L357.2 581.9 L357.5 580.7 L357.8 579.6 L358.1 578.4 L358.4 577.2 L358.7 576.1 L359.0 574.9 L359.3 573.8 L359.6 572.6 L359.9 571.4 L360.2 570.3 L360.5 569.1 L360.9 568.0 L361.2 566.8 L361.5 565.6 L361.8 564.5 L362.2 563.3 L362.5 562.2 L362.8 561.0 L363.2 559.9 L363.5 558.7 L363.9 557.6 L364.2 556.4 L364.5 555.3 L364.9 554.1 L365.3 553.0 L365.6 551.8 L366.0 550.7 L366.4 549.5 L366.7 548.4 L367.1 547.2 L367.5 546.1 L367.9 544.9 L368.2 543.8 L368.6 542.7 L369.0 541.5 L369.4 540.4 L369.8 539.2 L370.2 538.1 L370.6 537.0 L371.1 535.8 L371.5 534.7 L371.9 533.6 L372.3 532.4 L372.8 531.3 L373.2 530.2 L373.6 529.1 L374.1 528.0 L374.5 526.8 L375.0 525.7 L375.5 524.6 L376.0 523.5 L376.4 522.4 L376.9 521.3 L377.4 520.2 L377.9 519.1 L378.4 518.0 L379.0 517.0 L379.5 515.9 L380.0 514.8 L380.6 513.8 L381.1 512.7 L381.7 511.7 L382.3 510.6 L382.9 509.6 L383.5 508.6 L384.1 507.6 L384.7 506.5 L385.3 505.5 L386.0 504.5 L386.6 503.6 L387.3 502.6 L388.0 501.6 L388.7 500.7 L389.4 499.7 L390.1 498.8 L390.8 497.8 L391.5 496.9 L392.3 496.0 L393.1 495.1 L393.8 494.2 L394.6 493.3 L395.5 492.5 L396.3 491.6 L397.1 490.8 L398.0 489.9 L398.8 489.1 L399.7 488.3 L400.6 487.5 L401.5 486.7 L402.4 485.9 L403.3 485.2 L404.2 484.4 L405.2 483.6 L406.1 482.9 L407.1 482.2 L408.0 481.5 L409.0 480.8 L410.0 480.1 L411.0 479.4 L412.0 478.7 L413.0 478.1 L414.0 477.4 L415.1 476.8 L416.1 476.2 L417.1 475.6 L418.2 475.0 L419.2 474.4 L420.3 473.8 L421.4 473.2 L422.5 472.7 L423.5 472.1 L424.6 471.6 L425.7 471.1 L426.8 470.6 L427.9 470.1 L429.0 469.6 L430.1 469.1 L431.2 468.7 L432.4 468.2 L433.5 467.8 L434.6 467.4 L435.7 467.0 L436.9 466.6 L438.0 466.2 L439.1 465.8 L440.3 465.4 L441.4 465.1 L442.6 464.7 L443.7 464.4 L444.9 464.1 L446.0 463.7 L447.2 463.4 L448.3 463.1 L449.5 462.8 L450.6 462.6 L451.8 462.3 L453.0 462.0 L454.1 461.7 L455.3 461.5 L456.5 461.3 L457.6 461.0 L458.8 460.8 L460.0 460.6 L461.2 460.3 L462.3 460.1 L463.5 459.9 L464.7 459.7 L465.9 459.5 L467.1 459.3 L468.2 459.1 L469.4 459.0 L470.6 458.8 L471.8 458.6 L473.0 458.4 L474.2 458.3 L475.4 458.1 L476.6 458.0 L477.7 457.8 L478.9 457.6 L480.1 457.5 L481.3 457.3 L482.5 457.2 L483.7 457.1 L484.9 456.9 L486.1 456.8 L487.3 456.7 L488.5 456.5 L489.6 456.4 L490.8 456.3 L492.0 456.2 L493.2 456.1 L494.4 455.9 L495.6 455.8 L496.8 455.7 L498.0 455.6 L499.2 455.5 L500.4 455.4 L501.6 455.3 L502.8 455.2 L504.0 455.1 L505.2 455.1 L506.4 455.0 L507.6 454.9 L508.8 454.8 L510.0 454.7 L511.2 454.6 L512.4 454.6 L513.6 454.5 L514.8 454.4 L516.0 454.4 L517.2 454.3 L518.4 454.2 L519.6 454.2 L520.8 454.1 L522.0 454.0 L523.2 454.0 L524.4 453.9 L525.6 453.9 L526.8 453.8 L528.0 453.8 L529.2 453.7 L530.3 453.7 L531.5 453.6 L532.7 453.6 L533.9 453.6 L535.1 453.5 L536.3 453.5 L537.5 453.4 L538.7 453.4 L539.9 453.4 L541.1 453.3 L542.3 453.3 L543.5 453.3 L544.7 453.2 L545.9 453.2 L547.1 453.2 L548.3 453.2 L549.5 453.1 L550.7 453.1 L551.9 453.1 L553.1 453.1 L554.3 453.1 L555.5 453.0 L556.7 453.0 L557.9 453.0 L559.1 453.0 L560.3 453.0 L561.5 453.0 L562.7 452.9 L563.9 452.9 L565.1 452.9 L566.3 452.9 L567.5 452.9 L568.7 452.9 L569.9 452.9 L571.1 452.9 L572.3 452.9 L573.5 452.9 L574.7 452.9 L575.9 452.8 L577.1 452.8 L578.3 452.8 L579.5 452.8 L580.7 452.8 L581.9 452.8 L583.1 452.8 L584.3 452.8 L585.5 452.8 L586.7 452.8 L587.9 452.8 L589.1 452.8 L590.3 452.8 L591.5 452.8 L592.7 452.8 L593.9 452.8 L595.1 452.8 L596.3 452.8 L597.5 452.8 L598.7 452.8 L599.9 452.8 L601.1 452.8 L602.3 452.8 L603.5 452.8 L604.7 452.8 L605.9 452.8 L607.1 452.8 L608.3 452.8 L609.5 452.8 L610.7 452.8 L611.9 452.8 L613.1 452.8 L614.3 452.7 L615.5 452.7 L616.7 452.7 L617.9 452.7 L619.1 452.7 L620.3 452.7 L621.5 452.7" stroke="#00f" /></g>
<g stroke-width="0.30"><text x="124.3" y="45.7" font-size="17.5" textLength="21" lengthAdjust="spacingAndGlyphs" fill="#000" stroke="#000">Cu</text><text x="146.8" y="39.6" font-size="11.5" textLength="13.5" lengthAdjust="spacingAndGlyphs" fill="#000" stroke="#000">2+</text><text x="268.3" y="19.8" font-size="18.6" font-weight="bold" textLength="52" lengthAdjust="spacingAndGlyphs" fill="#000" stroke="#000">hepc6</text><text x="507.30" y="54.90" font-size="17.5" textLength="35.3" lengthAdjust="spacingAndGlyphs" fill="#0070c0" stroke="#0070c0">CuH</text><text x="543.30" y="59.20" font-size="11.5" textLength="10" lengthAdjust="spacingAndGlyphs" fill="#0070c0" stroke="#0070c0">-2</text><text x="555.60" y="54.90" font-size="17.5" textLength="8" lengthAdjust="spacingAndGlyphs" fill="#0070c0" stroke="#0070c0">L</text><text x="564.80" y="49.40" font-size="11.5" fill="#0070c0" stroke="#0070c0">-</text><text x="470.1" y="80.5" font-size="17.5" textLength="131.8" lengthAdjust="spacingAndGlyphs" fill="#000" stroke="#000">stable complex</text><text x="231" y="131.8" font-size="17.5" textLength="45.3" lengthAdjust="spacingAndGlyphs" fill="#f00" stroke="#f00">CuHL</text><text x="276.8" y="125.4" font-size="11.5" textLength="13.4" lengthAdjust="spacingAndGlyphs" fill="#f00" stroke="#f00">2+</text><text x="324.3" y="433.2" font-size="16" fill="#222">pH</text><text x="132.3" y="497.9" font-size="17.5" textLength="21.2" lengthAdjust="spacingAndGlyphs" fill="#000" stroke="#000">Cu</text><text x="154.9" y="491.5" font-size="11.5" textLength="13.6" lengthAdjust="spacingAndGlyphs" fill="#000" stroke="#000">2+</text><text x="309" y="493.6" font-size="18.6" font-weight="bold" textLength="39.4" lengthAdjust="spacingAndGlyphs" fill="#000" stroke="#000">GGH</text><text x="505.90" y="482.00" font-size="17.5" textLength="35.3" lengthAdjust="spacingAndGlyphs" fill="#0070c0" stroke="#0070c0">CuH</text><text x="541.90" y="486.30" font-size="11.5" textLength="10" lengthAdjust="spacingAndGlyphs" fill="#0070c0" stroke="#0070c0">-2</text><text x="554.20" y="482.00" font-size="17.5" textLength="8" lengthAdjust="spacingAndGlyphs" fill="#0070c0" stroke="#0070c0">L</text><text x="563.40" y="476.50" font-size="11.5" fill="#0070c0" stroke="#0070c0">-</text><text x="471" y="508.2" font-size="17.5" textLength="130.5" lengthAdjust="spacingAndGlyphs" fill="#000" stroke="#000">stable complex</text><text x="242" y="702.5" font-size="17.5" textLength="45" lengthAdjust="spacingAndGlyphs" fill="#f00" stroke="#f00">CuHL</text><text x="287.7" y="695.7" font-size="11.5" textLength="12.9" lengthAdjust="spacingAndGlyphs" fill="#f00" stroke="#f00">2+</text><text x="385.7" y="702.9" font-size="17.5" textLength="34.8" lengthAdjust="spacingAndGlyphs" fill="#00b0f0" stroke="#00b0f0">CuH</text><text x="421.4" y="706.6" font-size="11.5" textLength="11" lengthAdjust="spacingAndGlyphs" fill="#00b0f0" stroke="#00b0f0">-1</text><text x="433.6" y="702.9" font-size="17.5" textLength="8.6" lengthAdjust="spacingAndGlyphs" fill="#00b0f0" stroke="#00b0f0">L</text><text x="327.3" y="849.3" font-size="16" fill="#222">pH</text></g>
</svg></body></html>
